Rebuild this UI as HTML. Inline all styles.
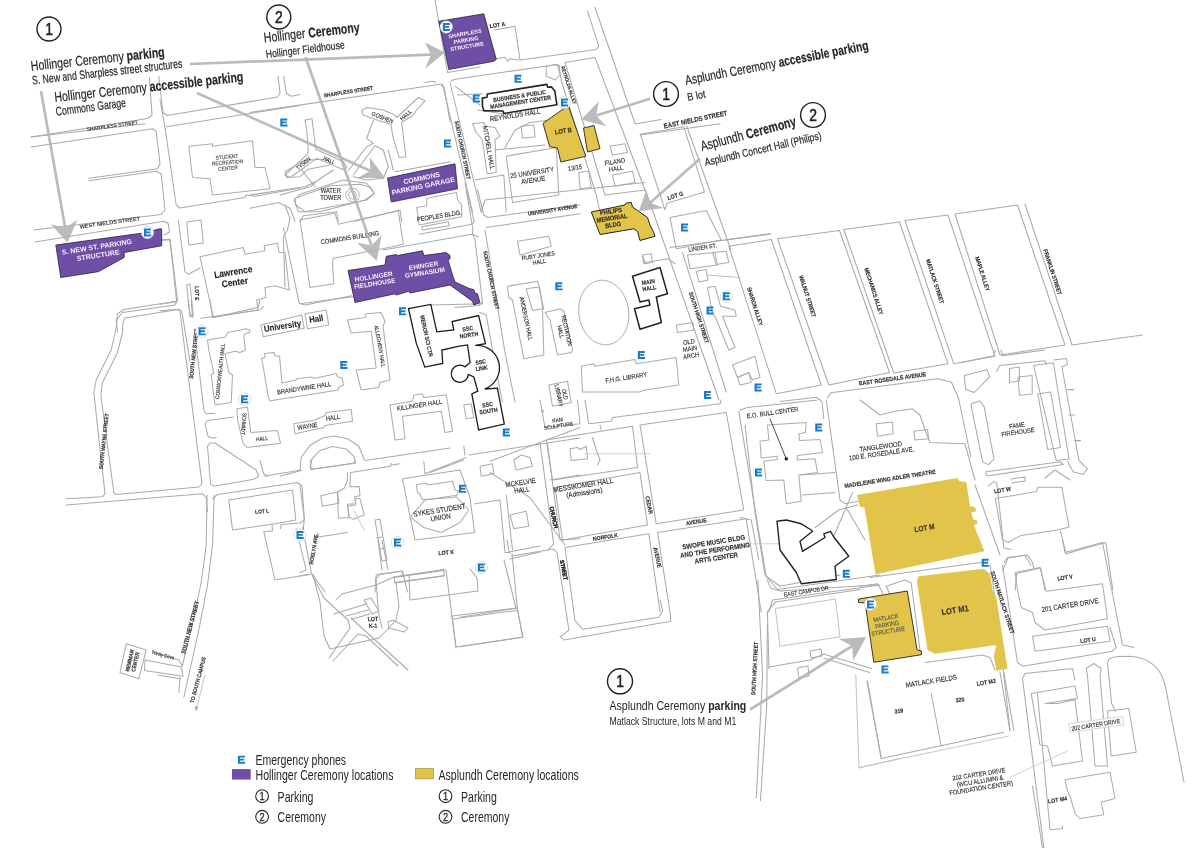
<!DOCTYPE html>
<html><head><meta charset="utf-8"><style>
html,body{margin:0;padding:0;background:#fff;}
svg{display:block;font-family:"Liberation Sans", sans-serif;will-change:transform;}
</style></head><body>
<svg width="1200" height="848" viewBox="0 0 1200 848">
<rect width="1200" height="848" fill="#fff"/>
<circle cx="262.1" cy="796.2" r="6.4" fill="white" stroke="#262626" stroke-width="1.1"/>
<circle cx="262.1" cy="816.8" r="6.4" fill="white" stroke="#262626" stroke-width="1.1"/>
<circle cx="445.5" cy="796.2" r="6.4" fill="white" stroke="#262626" stroke-width="1.1"/>
<circle cx="445.5" cy="816.8" r="6.4" fill="white" stroke="#262626" stroke-width="1.1"/>
<polyline points="31.2,137.0 147.5,118.5 152.0,115.0 149.5,77.5" fill="none" stroke="#aaaaaa" stroke-width="1.05" stroke-linejoin="round" stroke-linecap="round" />
<polyline points="158.8,76.2 163.0,112.5 167.5,115.5 277.5,97.0 280.0,93.0 278.0,76.2" fill="none" stroke="#aaaaaa" stroke-width="1.05" stroke-linejoin="round" stroke-linecap="round" />
<polyline points="283.8,76.2 286.2,93.0 291.2,96.2 300.0,94.5" fill="none" stroke="#aaaaaa" stroke-width="1.05" stroke-linejoin="round" stroke-linecap="round" />
<polyline points="31.2,137.0 145.0,123.8" fill="none" stroke="#aaaaaa" stroke-width="1.05" stroke-linejoin="round" stroke-linecap="round" />
<polyline points="31.2,147.0 152.5,128.8 156.2,131.2 160.0,163.8 157.5,168.8 88.8,178.2" fill="none" stroke="#aaaaaa" stroke-width="1.05" stroke-linejoin="round" stroke-linecap="round" />
<polyline points="88.8,180.8 156.2,171.2 161.2,173.8 165.0,210.0 161.2,214.5 33.8,230.0" fill="none" stroke="#aaaaaa" stroke-width="1.05" stroke-linejoin="round" stroke-linecap="round" />
<polyline points="35.0,242.0 163.8,221.2 168.0,223.2 169.5,232.0 163.8,235.0" fill="none" stroke="#aaaaaa" stroke-width="1.05" stroke-linejoin="round" stroke-linecap="round" />
<polyline points="162.5,240.0 170.0,240.0 177.5,300.0 175.0,305.0 122.5,312.5 116.2,320.0 117.5,332.0" fill="none" stroke="#aaaaaa" stroke-width="1.05" stroke-linejoin="round" stroke-linecap="round" />
<polyline points="160.0,100.0 165.0,127.5 176.2,205.0 180.0,208.0 245.0,197.5 246.2,195.0 255.0,196.2 300.0,188.0" fill="none" stroke="#aaaaaa" stroke-width="1.05" stroke-linejoin="round" stroke-linecap="round" />
<polyline points="166.5,126.8 300.0,105.5" fill="none" stroke="#aaaaaa" stroke-width="1.05" stroke-linejoin="round" stroke-linecap="round" />
<polygon points="188.8,146.2 212.5,143.8 212.5,146.2 252.5,140.8 255.0,167.5 265.0,167.5 270.0,188.8 212.5,195.0 210.0,178.8 192.5,177.5" fill="none" stroke="#acacac" stroke-width="1.05" stroke-linejoin="round" />
<polyline points="176.2,301.2 123.8,309.5 117.5,313.8 116.2,327.5 111.2,350.0 96.2,380.0 93.8,392.5 105.0,493.8 102.5,496.8 66.2,498.8" fill="none" stroke="#aaaaaa" stroke-width="1.05" stroke-linejoin="round" stroke-linecap="round" />
<polygon points="125.0,318.0 178.0,309.5 180.0,312.0 202.0,483.8 198.8,487.0 116.2,494.5 113.8,492.5 100.8,395.0 102.5,382.5 117.5,352.5 122.5,332.5 123.0,322.5" fill="none" stroke="#aaaaaa" stroke-width="1.05" stroke-linejoin="round" />
<polyline points="66.2,505.0 202.5,493.8 206.2,497.5 207.5,512.0" fill="none" stroke="#aaaaaa" stroke-width="1.05" stroke-linejoin="round" stroke-linecap="round" />
<polyline points="188.0,300.0 190.0,313.8 192.5,317.5 191.2,300.0" fill="none" stroke="#aaaaaa" stroke-width="1.05" stroke-linejoin="round" stroke-linecap="round" />
<polyline points="195.0,335.0 203.8,410.0 206.2,413.8 215.0,413.2" fill="none" stroke="#aaaaaa" stroke-width="1.05" stroke-linejoin="round" stroke-linecap="round" />
<polyline points="233.8,417.0 207.5,420.5 205.0,423.8 208.0,436.2 211.2,438.0 216.2,437.5" fill="none" stroke="#aaaaaa" stroke-width="1.05" stroke-linejoin="round" stroke-linecap="round" />
<polygon points="207.5,446.2 210.0,443.0 215.0,443.0 256.2,470.0 258.8,476.2 253.8,479.2 213.8,486.2 210.5,483.8" fill="none" stroke="#aaaaaa" stroke-width="1.05" stroke-linejoin="round" />
<polyline points="210.0,300.0 212.5,317.5 257.5,310.0 260.0,300.0" fill="none" stroke="#aaaaaa" stroke-width="1.05" stroke-linejoin="round" stroke-linecap="round" />
<polygon points="207.5,340.0 225.0,337.0 228.0,332.5 246.2,328.8 250.0,330.0 249.5,332.5 245.0,333.8 243.8,337.0 245.5,350.0 240.0,352.5 235.0,351.2 225.0,353.8 228.8,372.5 232.5,375.0 231.2,402.5 215.0,405.0 211.2,375.0 213.8,373.0 208.8,350.0" fill="none" stroke="#acacac" stroke-width="1.05" stroke-linejoin="round" />
<polygon points="237.0,408.8 247.5,407.0 250.8,432.5 277.5,430.5 280.5,443.2 247.0,447.5 243.0,443.0 237.5,419.5" fill="none" stroke="#acacac" stroke-width="1.05" stroke-linejoin="round" />
<polyline points="207.0,495.0 206.2,545.0 201.2,582.5 191.2,630.0 182.5,665.0" fill="none" stroke="#aaaaaa" stroke-width="1.05" stroke-linejoin="round" stroke-linecap="round" />
<polyline points="180.0,677.5 178.8,692.5" fill="none" stroke="#aaaaaa" stroke-width="1.05" stroke-linejoin="round" stroke-linecap="round" />
<polyline points="214.2,495.0 212.5,545.0 207.5,585.0 198.8,630.0 183.8,697.5" fill="none" stroke="#aaaaaa" stroke-width="1.05" stroke-linejoin="round" stroke-linecap="round" />
<polyline points="205.0,675.0 196.2,710.0" fill="none" stroke="#aaaaaa" stroke-width="0.7" stroke-linejoin="round" stroke-linecap="round" />
<polygon points="120.0,672.5 126.2,643.8 146.2,650.0 138.8,678.8" fill="none" stroke="#acacac" stroke-width="1.05" stroke-linejoin="round" />
<polyline points="152.5,652.0 178.8,660.0 182.5,666.2" fill="none" stroke="#aaaaaa" stroke-width="1.05" stroke-linejoin="round" stroke-linecap="round" />
<polygon points="145.0,660.0 181.2,667.0 183.0,676.2 144.5,670.5" fill="none" stroke="#aaaaaa" stroke-width="1.05" stroke-linejoin="round" />
<polyline points="158.0,675.0 180.0,678.8" fill="none" stroke="#aaaaaa" stroke-width="1.05" stroke-linejoin="round" stroke-linecap="round" />
<polygon points="300.0,220.0 335.0,213.3 338.3,224.2 398.3,210.8 403.3,244.2 385.0,248.3 333.3,258.3 332.5,263.0 333.8,283.8 310.0,287.5" fill="none" stroke="#acacac" stroke-width="1.05" stroke-linejoin="round" />
<circle cx="352.5" cy="195.0" r="6.7" fill="none" stroke="#aaa" stroke-width="0.9"/>
<circle cx="352.5" cy="195.0" r="4.0" fill="none" stroke="#aaa" stroke-width="0.9"/>
<polygon points="416.7,207.5 426.7,205.8 426.7,198.3 456.7,192.5 457.5,200.0 461.7,205.0 461.7,216.7 419.2,225.0" fill="none" stroke="#acacac" stroke-width="1.05" stroke-linejoin="round" />
<polygon points="421.7,226.7 448.3,221.7 449.2,225.8 422.5,230.0" fill="none" stroke="#acacac" stroke-width="1.05" stroke-linejoin="round" />
<polyline points="419.2,234.2 471.7,224.2 474.2,221.7 465.0,183.3" fill="none" stroke="#aaaaaa" stroke-width="1.05" stroke-linejoin="round" stroke-linecap="round" />
<polyline points="383.3,250.0 471.7,234.2 478.3,236.7" fill="none" stroke="#aaaaaa" stroke-width="1.05" stroke-linejoin="round" stroke-linecap="round" />
<polyline points="295.0,198.3 330.0,185.8 360.0,184.2 370.8,187.5 374.2,193.7 366.7,200.0 313.3,210.3 305.0,211.7 295.8,205.0 295.0,198.3" fill="none" stroke="#aaaaaa" stroke-width="1.05" stroke-linejoin="round" stroke-linecap="round" />
<polyline points="280.0,195.0 310.0,186.7 318.3,180.0 333.3,170.0" fill="none" stroke="#aaaaaa" stroke-width="1.05" stroke-linejoin="round" stroke-linecap="round" />
<polyline points="285.0,205.0 290.0,218.3 287.5,230.0 283.3,236.7 285.0,286.7" fill="none" stroke="#aaaaaa" stroke-width="1.05" stroke-linejoin="round" stroke-linecap="round" />
<polygon points="285.0,171.7 305.0,160.0 305.8,163.3 310.0,160.0 323.3,159.2 330.0,161.7 330.0,165.0 308.3,169.2 300.0,176.7 286.7,177.5" fill="none" stroke="#acacac" stroke-width="1.05" stroke-linejoin="round" />
<polygon points="305.0,313.8 326.2,310.0 328.8,325.0 307.5,328.8" fill="none" stroke="#acacac" stroke-width="1.05" stroke-linejoin="round" />
<polygon points="347.5,320.0 365.0,317.5 366.2,313.8 381.2,312.5 385.0,321.2 383.0,326.2 390.0,380.0 380.0,382.5 378.8,387.5 361.2,390.0 356.2,370.0 376.2,368.0 371.2,331.2 351.2,333.0" fill="none" stroke="#acacac" stroke-width="1.05" stroke-linejoin="round" />
<polygon points="507.5,286.2 537.5,281.2 540.0,288.8 542.5,307.5 543.8,355.0 523.8,358.8 512.5,300.0 508.8,297.5" fill="none" stroke="#acacac" stroke-width="1.05" stroke-linejoin="round" />
<polygon points="526.2,288.8 538.8,287.0 543.8,308.8 532.5,310.5" fill="none" stroke="#acacac" stroke-width="1.05" stroke-linejoin="round" />
<polygon points="545.0,312.5 560.0,308.8 563.8,311.2 572.5,350.0 571.2,352.5 557.5,355.0 550.0,320.0" fill="none" stroke="#acacac" stroke-width="1.05" stroke-linejoin="round" />
<polygon points="517.5,241.2 548.8,236.2 551.2,246.2 520.0,255.0" fill="none" stroke="#acacac" stroke-width="1.05" stroke-linejoin="round" />
<polyline points="466.2,190.0 473.0,230.0 472.5,233.8" fill="none" stroke="#aaaaaa" stroke-width="1.05" stroke-linejoin="round" stroke-linecap="round" />
<polyline points="477.5,190.0 483.8,215.0 487.5,217.5 580.0,205.0" fill="none" stroke="#aaaaaa" stroke-width="1.05" stroke-linejoin="round" stroke-linecap="round" />
<polyline points="485.0,230.0 505.0,352.5 515.0,402.0" fill="none" stroke="#aaaaaa" stroke-width="1.05" stroke-linejoin="round" stroke-linecap="round" />
<polyline points="486.2,227.5 580.0,213.8" fill="none" stroke="#aaaaaa" stroke-width="1.05" stroke-linejoin="round" stroke-linecap="round" />
<polyline points="472.5,233.8 475.0,240.0 482.5,302.5 478.8,305.5 455.0,307.5" fill="none" stroke="#aaaaaa" stroke-width="1.05" stroke-linejoin="round" stroke-linecap="round" />
<polyline points="300.0,303.8 385.0,292.5 450.0,283.8" fill="none" stroke="#aaaaaa" stroke-width="1.05" stroke-linejoin="round" stroke-linecap="round" />
<polyline points="480.0,312.5 486.2,315.0 500.0,390.0 502.5,402.0" fill="none" stroke="#aaaaaa" stroke-width="1.05" stroke-linejoin="round" stroke-linecap="round" />
<polyline points="430.0,305.0 482.5,303.8" fill="none" stroke="#aaaaaa" stroke-width="1.05" stroke-linejoin="round" stroke-linecap="round" />
<ellipse cx="603.8" cy="312.5" rx="25" ry="32.5" transform="rotate(-8 603.8 312.5)" fill="none" stroke="#aaa" stroke-width="0.9"/>
<polygon points="581.2,366.2 593.8,363.8 595.0,366.2 635.0,359.5 636.2,363.8 645.0,362.5 676.2,357.5 678.8,385.0 645.0,390.0 638.8,392.0 582.5,392.0" fill="none" stroke="#acacac" stroke-width="1.05" stroke-linejoin="round" />
<polyline points="645.0,190.0 650.0,203.0 719.0,400.0" fill="none" stroke="#aaaaaa" stroke-width="1.05" stroke-linejoin="round" stroke-linecap="round" />
<polyline points="682.5,252.5 726.2,392.0" fill="none" stroke="#aaaaaa" stroke-width="1.05" stroke-linejoin="round" stroke-linecap="round" />
<polygon points="640.4,134.3 683.8,126.8 704.5,191.9 666.8,203.2 664.9,209.8" fill="none" stroke="#acacac" stroke-width="1.05" stroke-linejoin="round" />
<polygon points="670.0,217.5 706.2,210.5 721.2,240.0 676.2,248.8" fill="none" stroke="#aaaaaa" stroke-width="1.05" stroke-linejoin="round" />
<polyline points="670.0,247.5 770.0,233.8" fill="none" stroke="#aaaaaa" stroke-width="1.05" stroke-linejoin="round" stroke-linecap="round" />
<polyline points="642.5,255.0 645.0,262.5 668.8,258.8 675.0,263.8" fill="none" stroke="#aaaaaa" stroke-width="1.05" stroke-linejoin="round" stroke-linecap="round" />
<polygon points="687.5,255.0 715.0,252.5 717.5,265.0 690.0,268.8" fill="none" stroke="#acacac" stroke-width="1.05" stroke-linejoin="round" />
<polygon points="712.5,252.5 726.2,251.2 728.8,262.5 716.2,264.5" fill="none" stroke="#acacac" stroke-width="1.05" stroke-linejoin="round" />
<polygon points="696.2,271.2 706.2,269.5 708.0,280.0 698.8,282.0" fill="none" stroke="#acacac" stroke-width="1.05" stroke-linejoin="round" />
<polyline points="706.2,275.0 740.0,277.5" fill="none" stroke="#c4c4c4" stroke-width="1.05" stroke-linejoin="round" stroke-linecap="round" />
<polygon points="676.2,325.0 693.0,322.5 693.8,330.0 677.5,332.5" fill="none" stroke="#acacac" stroke-width="1.05" stroke-linejoin="round" />
<polygon points="707.5,287.5 715.0,286.2 720.5,306.2 735.0,310.0 736.2,316.2 722.5,316.2 735.0,347.5 728.8,350.0 715.0,316.2 712.5,313.8" fill="none" stroke="#acacac" stroke-width="1.05" stroke-linejoin="round" />
<polygon points="732.5,365.0 755.0,356.2 760.0,377.5 752.5,380.0 748.8,372.5 737.5,377.5" fill="none" stroke="#acacac" stroke-width="1.05" stroke-linejoin="round" />
<polygon points="737.5,377.5 748.8,372.5 751.2,382.5 740.0,385.0" fill="none" stroke="#acacac" stroke-width="1.05" stroke-linejoin="round" />
<polygon points="642.5,255.0 651.2,253.8 652.5,262.5 643.8,263.8" fill="none" stroke="#acacac" stroke-width="1.05" stroke-linejoin="round" />
<polygon points="728.8,246.3 771.3,239.5 821.3,385.0 776.3,393.8" fill="none" stroke="#aaaaaa" stroke-width="1.05" stroke-linejoin="round" />
<polygon points="777.5,238.8 839.5,230.5 889.5,372.5 828.8,385.0" fill="none" stroke="#aaaaaa" stroke-width="1.05" stroke-linejoin="round" />
<polygon points="843.8,229.5 899.5,222.0 948.0,363.8 893.8,373.0" fill="none" stroke="#aaaaaa" stroke-width="1.05" stroke-linejoin="round" />
<polygon points="905.0,220.5 948.0,215.0 995.0,356.3 953.8,363.8" fill="none" stroke="#aaaaaa" stroke-width="1.05" stroke-linejoin="round" />
<polygon points="955.0,214.0 1017.5,205.0 1065.0,345.0 1000.0,355.0" fill="none" stroke="#aaaaaa" stroke-width="1.05" stroke-linejoin="round" />
<polyline points="1025.0,204.0 1072.0,345.0 1142.5,335.0" fill="none" stroke="#aaaaaa" stroke-width="1.05" stroke-linejoin="round" stroke-linecap="round" />
<polyline points="725.0,240.0 771.0,234.0" fill="none" stroke="#aaaaaa" stroke-width="1.05" stroke-linejoin="round" stroke-linecap="round" />
<polygon points="760.0,441.2 768.8,440.0 767.5,425.0 806.2,422.5 805.5,432.5 798.8,433.8 799.5,440.5 820.0,439.5 822.5,452.5 797.5,455.5 797.0,460.0 815.0,458.8 817.5,472.5 798.8,475.0 801.2,501.2 786.2,503.8 783.8,480.0 766.2,480.5 763.8,461.2 777.5,459.5 777.0,456.2 761.2,458.0" fill="none" stroke="#acacac" stroke-width="1.05" stroke-linejoin="round" />
<polygon points="876.2,423.8 892.5,422.0 893.0,433.8 877.5,436.2" fill="none" stroke="#acacac" stroke-width="1.05" stroke-linejoin="round" />
<polygon points="913.8,431.2 927.5,429.5 928.8,438.8 915.0,440.0" fill="none" stroke="#acacac" stroke-width="1.05" stroke-linejoin="round" />
<polyline points="860.0,400.0 880.0,415.0 895.0,411.2 912.5,408.8 920.0,415.0 925.0,430.0 930.0,442.5 965.0,443.8 975.0,480.0" fill="none" stroke="#aaaaaa" stroke-width="1.05" stroke-linejoin="round" stroke-linecap="round" />
<polyline points="826.2,400.0 840.0,500.0 845.0,503.8 865.0,500.0" fill="none" stroke="#aaaaaa" stroke-width="1.05" stroke-linejoin="round" stroke-linecap="round" />
<polyline points="745.0,425.0 755.0,512.5 765.0,575.0 777.5,589.5 880.0,575.0" fill="none" stroke="#aaaaaa" stroke-width="1.05" stroke-linejoin="round" stroke-linecap="round" />
<polyline points="740.0,517.5 751.2,520.0 758.8,560.0" fill="none" stroke="#aaaaaa" stroke-width="1.05" stroke-linejoin="round" stroke-linecap="round" />
<polyline points="768.8,612.0 772.5,600.0 880.0,585.0" fill="none" stroke="#aaaaaa" stroke-width="1.05" stroke-linejoin="round" stroke-linecap="round" />
<polyline points="846.2,507.5 865.0,540.0" fill="none" stroke="#aaaaaa" stroke-width="1.05" stroke-linejoin="round" stroke-linecap="round" />
<polyline points="815.0,527.5 838.8,510.0 857.5,505.0" fill="none" stroke="#aaaaaa" stroke-width="1.05" stroke-linejoin="round" stroke-linecap="round" />
<polyline points="830.0,545.0 852.5,492.5" fill="none" stroke="#aaaaaa" stroke-width="1.05" stroke-linejoin="round" stroke-linecap="round" />
<polyline points="975.0,485.0 1000.0,555.0" fill="none" stroke="#aaaaaa" stroke-width="1.05" stroke-linejoin="round" stroke-linecap="round" />
<polyline points="801.2,475.0 835.0,472.5" fill="none" stroke="#aaaaaa" stroke-width="1.05" stroke-linejoin="round" stroke-linecap="round" />
<polyline points="802.5,495.0 835.0,492.5" fill="none" stroke="#aaaaaa" stroke-width="1.05" stroke-linejoin="round" stroke-linecap="round" />
<polygon points="293.8,423.8 315.0,420.0 325.0,415.5 326.2,412.5 351.2,409.5 352.5,421.2 325.0,425.5 323.8,427.5 295.0,433.8" fill="none" stroke="#acacac" stroke-width="1.05" stroke-linejoin="round" />
<polygon points="390.0,405.0 412.5,401.2 413.8,395.0 422.5,393.8 423.8,397.5 446.2,395.0 452.5,431.2 445.0,432.5 441.2,411.2 402.5,416.2 405.0,438.8 395.0,440.0" fill="none" stroke="#acacac" stroke-width="1.05" stroke-linejoin="round" />
<polygon points="463.8,405.0 471.2,403.8 473.8,417.5 466.2,418.8" fill="none" stroke="#acacac" stroke-width="1.05" stroke-linejoin="round" />
<polygon points="548.8,385.0 567.5,381.2 571.2,402.5 552.5,406.2" fill="none" stroke="#acacac" stroke-width="1.05" stroke-linejoin="round" />
<polyline points="463.8,446.2 465.0,455.0" fill="none" stroke="#aaaaaa" stroke-width="1.05" stroke-linejoin="round" stroke-linecap="round" />
<polygon points="416.2,485.0 426.2,483.0 427.5,485.0 452.5,481.2 455.0,490.0 458.8,491.2 455.0,497.5 422.5,499.5 419.5,493.8 417.5,492.5" fill="none" stroke="#acacac" stroke-width="1.05" stroke-linejoin="round" />
<polygon points="411.2,516.2 425.0,500.0 455.0,495.5 468.8,510.0 460.0,522.5 441.2,532.5 423.8,527.5 412.5,518.8" fill="none" stroke="#acacac" stroke-width="1.05" stroke-linejoin="round" />
<polyline points="402.5,478.8 460.0,470.0 470.0,497.5 474.5,532.5 415.0,540.0 410.0,516.2 402.5,478.8" fill="none" stroke="#aaaaaa" stroke-width="1.05" stroke-linejoin="round" stroke-linecap="round" />
<polyline points="423.8,461.2 425.0,473.8 466.2,457.5" fill="none" stroke="#aaaaaa" stroke-width="1.05" stroke-linejoin="round" stroke-linecap="round" />
<polyline points="430.0,472.5 463.8,460.0" fill="none" stroke="#aaaaaa" stroke-width="1.05" stroke-linejoin="round" stroke-linecap="round" />
<polygon points="480.0,466.2 492.5,463.8 493.8,473.8 481.2,476.2" fill="none" stroke="#acacac" stroke-width="1.05" stroke-linejoin="round" />
<polygon points="513.8,460.0 521.2,455.0 530.0,457.5 532.5,466.2 516.2,470.0" fill="none" stroke="#acacac" stroke-width="1.05" stroke-linejoin="round" />
<polygon points="510.0,515.0 526.2,511.2 528.8,526.2 513.8,528.8" fill="none" stroke="#acacac" stroke-width="1.05" stroke-linejoin="round" />
<polyline points="540.0,442.5 553.7,544.1 548.6,549.1" fill="none" stroke="#aaaaaa" stroke-width="1.05" stroke-linejoin="round" stroke-linecap="round" />
<polyline points="547.5,443.8 560.0,540.0 580.0,538.8" fill="none" stroke="#aaaaaa" stroke-width="1.05" stroke-linejoin="round" stroke-linecap="round" />
<polyline points="550.0,480.0 580.0,475.0" fill="none" stroke="#aaaaaa" stroke-width="1.05" stroke-linejoin="round" stroke-linecap="round" />
<polyline points="511.5,555.9 553.7,549.1 557.1,552.5 568.9,630.1 560.4,636.8" fill="none" stroke="#aaaaaa" stroke-width="1.05" stroke-linejoin="round" stroke-linecap="round" />
<polyline points="475.0,503.8 500.0,500.0 505.0,552.5 510.0,552.5" fill="none" stroke="#aaaaaa" stroke-width="1.05" stroke-linejoin="round" stroke-linecap="round" />
<polyline points="506.2,495.0 512.5,550.0" fill="none" stroke="#aaaaaa" stroke-width="1.05" stroke-linejoin="round" stroke-linecap="round" />
<polyline points="490.0,472.5 530.0,497.5 565.0,545.0" fill="none" stroke="#aaaaaa" stroke-width="1.05" stroke-linejoin="round" stroke-linecap="round" />
<polyline points="495.0,30.0 515.0,26.2 520.0,60.0 596.2,49.5 598.8,46.2 587.5,11.2" fill="none" stroke="#aaaaaa" stroke-width="1.05" stroke-linejoin="round" stroke-linecap="round" />
<polyline points="435.0,0.0 447.5,72.5 480.0,67.0" fill="none" stroke="#aaaaaa" stroke-width="1.05" stroke-linejoin="round" stroke-linecap="round" />
<polyline points="483.8,60.0 505.0,57.5 507.5,61.2 510.0,58.8 518.8,60.0" fill="none" stroke="#aaaaaa" stroke-width="1.05" stroke-linejoin="round" stroke-linecap="round" />
<polyline points="425.0,82.5 432.5,81.2 436.2,82.5" fill="none" stroke="#aaaaaa" stroke-width="1.05" stroke-linejoin="round" stroke-linecap="round" />
<polyline points="451.2,81.2 453.8,79.5 545.0,66.2 556.2,64.5 560.0,66.2" fill="none" stroke="#aaaaaa" stroke-width="1.05" stroke-linejoin="round" stroke-linecap="round" />
<polyline points="450.0,82.5 481.2,212.0" fill="none" stroke="#aaaaaa" stroke-width="1.05" stroke-linejoin="round" stroke-linecap="round" />
<polyline points="442.5,83.8 472.5,212.0" fill="none" stroke="#aaaaaa" stroke-width="1.05" stroke-linejoin="round" stroke-linecap="round" />
<polyline points="565.0,62.5 595.0,57.5 645.0,190.0 605.0,195.0 565.0,62.5" fill="none" stroke="#aaaaaa" stroke-width="1.05" stroke-linejoin="round" stroke-linecap="round" />
<polyline points="558.8,65.0 561.2,80.0 596.2,195.0 600.0,212.0" fill="none" stroke="#aaaaaa" stroke-width="1.05" stroke-linejoin="round" stroke-linecap="round" />
<polyline points="595.0,7.5 635.2,124.0 661.0,119.5" fill="none" stroke="#aaaaaa" stroke-width="1.05" stroke-linejoin="round" stroke-linecap="round" />
<polyline points="640.0,135.0 720.0,123.8" fill="none" stroke="#aaaaaa" stroke-width="1.05" stroke-linejoin="round" stroke-linecap="round" />
<polyline points="686.6,125.8 731.0,250.0" fill="none" stroke="#aaaaaa" stroke-width="1.05" stroke-linejoin="round" stroke-linecap="round" />
<polyline points="475.0,180.0 503.8,175.0 506.2,212.0" fill="none" stroke="#aaaaaa" stroke-width="1.05" stroke-linejoin="round" stroke-linecap="round" />
<polyline points="481.2,212.0 485.0,200.0 645.0,182.5" fill="none" stroke="#aaaaaa" stroke-width="1.05" stroke-linejoin="round" stroke-linecap="round" />
<polygon points="472.5,123.8 483.8,122.5 485.5,126.2 495.0,127.5 500.0,136.2 495.0,140.0 496.2,172.5 487.0,173.8 482.5,140.0 476.2,132.5" fill="none" stroke="#acacac" stroke-width="1.05" stroke-linejoin="round" />
<polygon points="506.2,156.2 556.2,147.5 558.8,195.0 512.5,202.5" fill="none" stroke="#acacac" stroke-width="1.05" stroke-linejoin="round" />
<polygon points="610.0,146.2 625.0,143.8 627.5,152.5 612.5,155.0" fill="none" stroke="#acacac" stroke-width="1.05" stroke-linejoin="round" />
<polygon points="612.5,175.0 632.5,171.2 635.0,182.5 615.0,186.2" fill="none" stroke="#acacac" stroke-width="1.05" stroke-linejoin="round" />
<polygon points="578.8,172.5 588.8,171.2 591.2,187.5 580.0,188.8" fill="none" stroke="#acacac" stroke-width="1.05" stroke-linejoin="round" />
<polygon points="521.2,126.2 533.8,125.0 535.0,137.0 522.5,138.0" fill="none" stroke="#acacac" stroke-width="1.05" stroke-linejoin="round" />
<polyline points="505.0,147.5 515.0,130.0 530.0,122.5 550.0,120.0 552.5,125.0" fill="none" stroke="#aaaaaa" stroke-width="1.05" stroke-linejoin="round" stroke-linecap="round" />
<polyline points="495.0,150.0 545.0,145.0" fill="none" stroke="#aaaaaa" stroke-width="1.05" stroke-linejoin="round" stroke-linecap="round" />
<polyline points="455.0,86.2 480.0,105.0" fill="none" stroke="#aaaaaa" stroke-width="1.05" stroke-linejoin="round" stroke-linecap="round" />
<polyline points="457.5,95.0 482.5,93.8" fill="none" stroke="#aaaaaa" stroke-width="1.05" stroke-linejoin="round" stroke-linecap="round" />
<polyline points="477.5,110.0 502.5,113.8" fill="none" stroke="#aaaaaa" stroke-width="1.05" stroke-linejoin="round" stroke-linecap="round" />
<polygon points="546.2,66.2 557.5,64.5 560.0,75.0 555.0,80.0 546.2,76.2" fill="none" stroke="#acacac" stroke-width="1.05" stroke-linejoin="round" />
<polyline points="870.0,577.5 983.8,562.0" fill="none" stroke="#aaaaaa" stroke-width="1.05" stroke-linejoin="round" stroke-linecap="round" />
<polyline points="860.0,586.2 877.5,583.8 881.2,590.0 882.5,593.8" fill="none" stroke="#aaaaaa" stroke-width="1.05" stroke-linejoin="round" stroke-linecap="round" />
<polygon points="886.2,586.2 905.0,580.0 911.2,583.0 920.0,650.0 917.5,651.2 913.8,645.0" fill="none" stroke="#aaaaaa" stroke-width="1.05" stroke-linejoin="round" />
<polyline points="990.0,565.0 995.0,597.5 1010.0,730.0" fill="none" stroke="#aaaaaa" stroke-width="1.05" stroke-linejoin="round" stroke-linecap="round" />
<polyline points="1003.8,562.5 1007.5,557.5 1027.5,555.0 1032.5,562.5 1033.8,567.5" fill="none" stroke="#aaaaaa" stroke-width="1.05" stroke-linejoin="round" stroke-linecap="round" />
<polyline points="1002.5,565.0 1017.5,662.5 1022.5,666.2 1112.5,651.2 1116.2,647.5 1110.0,627.5" fill="none" stroke="#aaaaaa" stroke-width="1.05" stroke-linejoin="round" stroke-linecap="round" />
<polygon points="1015.0,572.5 1040.0,567.5 1046.2,591.2 1102.5,583.8 1107.5,618.8 1045.0,630.0 1035.0,622.5 1032.5,612.5 1021.2,607.5 1017.5,590.0" fill="none" stroke="#acacac" stroke-width="1.05" stroke-linejoin="round" />
<polygon points="1032.5,636.2 1107.5,626.2 1110.0,641.2 1035.0,651.2" fill="none" stroke="#acacac" stroke-width="1.05" stroke-linejoin="round" />
<polyline points="1062.5,540.0 1065.0,552.5 1102.5,542.5 1122.5,645.0 1133.8,647.5" fill="none" stroke="#aaaaaa" stroke-width="1.05" stroke-linejoin="round" stroke-linecap="round" />
<polyline points="925.0,662.5 982.5,655.0 990.0,657.5 995.0,670.0" fill="none" stroke="#aaaaaa" stroke-width="1.05" stroke-linejoin="round" stroke-linecap="round" />
<polyline points="867.5,681.0 881.2,758.5 1003.8,732.2" fill="none" stroke="#aaaaaa" stroke-width="1.05" stroke-linejoin="round" stroke-linecap="round" />
<polyline points="931.2,693.5 941.2,746.0" fill="none" stroke="#aaaaaa" stroke-width="1.05" stroke-linejoin="round" stroke-linecap="round" />
<polyline points="1000.0,672.2 1010.0,731.0" fill="none" stroke="#aaaaaa" stroke-width="1.05" stroke-linejoin="round" stroke-linecap="round" />
<polyline points="1003.8,672.2 1013.8,730.5" fill="none" stroke="#aaaaaa" stroke-width="1.05" stroke-linejoin="round" stroke-linecap="round" />
<polyline points="860.0,767.2 1008.8,736.0" fill="none" stroke="#c8c8c8" stroke-width="1.05" stroke-linejoin="round" stroke-linecap="round" />
<polyline points="1022.5,678.5 1025.0,673.5 1072.5,668.5 1075.0,679.8" fill="none" stroke="#aaaaaa" stroke-width="1.05" stroke-linejoin="round" stroke-linecap="round" />
<polyline points="1022.5,678.5 1043.8,848.0" fill="none" stroke="#aaaaaa" stroke-width="1.05" stroke-linejoin="round" stroke-linecap="round" />
<polyline points="1032.5,786.0 1042.5,848.0" fill="none" stroke="#aaaaaa" stroke-width="1.05" stroke-linejoin="round" stroke-linecap="round" />
<polygon points="1031.2,693.5 1075.0,686.0 1077.5,698.5 1045.0,703.5 1057.5,703.5 1075.0,699.8 1082.5,761.0 1052.5,766.0 1047.5,746.0 1040.0,744.8" fill="none" stroke="#acacac" stroke-width="1.05" stroke-linejoin="round" />
<polygon points="1086.2,668.5 1093.8,663.5 1101.2,668.5 1100.0,676.0 1107.5,766.0 1095.0,766.0 1087.5,676.0" fill="none" stroke="#acacac" stroke-width="1.05" stroke-linejoin="round" />
<polygon points="1107.5,711.0 1128.8,708.5 1136.2,752.2 1111.2,756.0" fill="none" stroke="#acacac" stroke-width="1.05" stroke-linejoin="round" />
<polygon points="1065.0,779.8 1110.0,772.2 1115.0,798.5 1101.2,802.2 1103.8,814.8 1080.0,818.5 1075.0,813.5 1070.0,796.0 1067.5,791.0" fill="none" stroke="#acacac" stroke-width="1.05" stroke-linejoin="round" />
<polyline points="1037.5,693.5 1050.0,829.8 1062.5,828.5 1062.5,826.0" fill="none" stroke="#aaaaaa" stroke-width="1.05" stroke-linejoin="round" stroke-linecap="round" />
<polyline points="1010.0,777.2 1067.5,751.0" fill="none" stroke="#bbb" stroke-width="0.7" stroke-linejoin="round" stroke-linecap="round" />
<polygon points="1068.8,723.5 1122.5,716.5 1123.8,724.8 1070.0,732.2" fill="white" stroke="#bbb" stroke-width="0.6" stroke-linejoin="round" />
<polygon points="546.2,440.0 632.5,426.2 637.5,467.5 552.5,480.0" fill="none" stroke="#aaaaaa" stroke-width="1.05" stroke-linejoin="round" />
<polygon points="570.0,448.8 577.5,447.5 580.0,449.5 586.2,446.2 587.5,458.8 571.2,460.5" fill="none" stroke="#acacac" stroke-width="1.05" stroke-linejoin="round" />
<polyline points="585.0,453.8 650.0,453.8" fill="none" stroke="#c0c0c0" stroke-width="0.7" stroke-linejoin="round" stroke-linecap="round" />
<polyline points="592.5,437.5 596.2,450.0 600.0,460.0 597.5,465.0" fill="none" stroke="#aaaaaa" stroke-width="1.05" stroke-linejoin="round" stroke-linecap="round" />
<polygon points="555.0,487.5 640.0,472.5 647.5,525.0 562.5,540.0" fill="none" stroke="#aaaaaa" stroke-width="1.05" stroke-linejoin="round" />
<polygon points="640.0,425.0 726.2,412.5 743.8,510.0 656.2,523.8" fill="none" stroke="#aaaaaa" stroke-width="1.05" stroke-linejoin="round" />
<polyline points="670.0,612.0 657.5,532.5 746.2,518.8 761.2,612.0" fill="none" stroke="#aaaaaa" stroke-width="1.05" stroke-linejoin="round" stroke-linecap="round" />
<polyline points="573.8,612.0 565.0,547.5 648.8,533.8 660.0,612.0" fill="none" stroke="#aaaaaa" stroke-width="1.05" stroke-linejoin="round" stroke-linecap="round" />
<polyline points="540.0,400.0 545.0,427.5 580.0,423.8 577.5,400.0" fill="none" stroke="#aaaaaa" stroke-width="1.05" stroke-linejoin="round" stroke-linecap="round" />
<polyline points="585.0,400.0 588.8,423.8 611.2,421.2 612.5,417.5 720.0,403.8 721.2,400.0" fill="none" stroke="#aaaaaa" stroke-width="1.05" stroke-linejoin="round" stroke-linecap="round" />
<polyline points="600.0,425.0 601.2,430.0" fill="none" stroke="#aaaaaa" stroke-width="1.05" stroke-linejoin="round" stroke-linecap="round" />
<polyline points="738.8,411.2 766.2,576.2 780.0,586.2 840.0,575.0" fill="none" stroke="#aaaaaa" stroke-width="1.05" stroke-linejoin="round" stroke-linecap="round" />
<polyline points="740.0,410.0 747.5,407.5 817.5,400.0" fill="none" stroke="#aaaaaa" stroke-width="1.05" stroke-linejoin="round" stroke-linecap="round" />
<polyline points="745.0,543.8 786.2,543.8" fill="none" stroke="#bbb" stroke-width="0.7" stroke-linejoin="round" stroke-linecap="round" />
<polygon points="200.0,256.7 243.3,247.5 245.0,254.2 265.0,250.8 264.2,245.8 277.5,243.3 279.2,252.5 285.0,252.5 289.2,290.0 275.0,285.8 265.0,287.5 265.8,297.5 256.7,300.0 257.5,307.5 213.3,317.5" fill="none" stroke="#acacac" stroke-width="1.05" stroke-linejoin="round" />
<polygon points="260.8,325.0 301.7,315.0 304.2,328.3 263.3,336.7" fill="none" stroke="#acacac" stroke-width="1.05" stroke-linejoin="round" />
<polygon points="186.7,285.0 190.0,284.2 193.3,315.8 190.0,316.7" fill="none" stroke="#acacac" stroke-width="1.05" stroke-linejoin="round" />
<polygon points="186.7,222.0 201.0,220.0 203.3,243.0 189.0,245.0" fill="none" stroke="#acacac" stroke-width="1.05" stroke-linejoin="round" />
<polyline points="178.3,220.0 185.0,271.7 188.3,274.2 200.0,268.0" fill="none" stroke="#aaaaaa" stroke-width="1.05" stroke-linejoin="round" stroke-linecap="round" />
<polyline points="160.0,310.8 178.3,309.2 181.7,310.8 190.0,361.3" fill="none" stroke="#aaaaaa" stroke-width="1.05" stroke-linejoin="round" stroke-linecap="round" />
<polyline points="160.0,240.0 170.0,239.2 176.7,301.7 160.0,304.2" fill="none" stroke="#aaaaaa" stroke-width="1.05" stroke-linejoin="round" stroke-linecap="round" />
<polyline points="283.3,227.5 299.2,303.3 305.0,305.0 351.7,295.8" fill="none" stroke="#aaaaaa" stroke-width="1.05" stroke-linejoin="round" stroke-linecap="round" />
<polyline points="200.8,318.3 260.0,310.0 263.3,306.7" fill="none" stroke="#aaaaaa" stroke-width="1.05" stroke-linejoin="round" stroke-linecap="round" />
<polyline points="250.0,112.5 440.0,84.2 444.2,87.5 450.0,121.7" fill="none" stroke="#aaaaaa" stroke-width="1.05" stroke-linejoin="round" stroke-linecap="round" />
<polyline points="395.0,171.7 450.0,161.7" fill="none" stroke="#aaaaaa" stroke-width="1.05" stroke-linejoin="round" stroke-linecap="round" />
<polyline points="393.3,170.0 388.3,150.0" fill="none" stroke="#aaaaaa" stroke-width="1.05" stroke-linejoin="round" stroke-linecap="round" />
<polyline points="294.2,200.0 300.0,194.2 343.3,180.0 366.7,183.3 374.2,193.3 365.0,200.0 320.0,211.7 298.3,211.7 294.2,200.0" fill="none" stroke="#aaaaaa" stroke-width="1.05" stroke-linejoin="round" stroke-linecap="round" />
<polyline points="250.0,208.3 278.3,202.5 290.0,208.3 295.0,221.3" fill="none" stroke="#aaaaaa" stroke-width="1.05" stroke-linejoin="round" stroke-linecap="round" />
<polyline points="300.0,221.3 303.3,215.8 336.7,211.7 338.3,221.3" fill="none" stroke="#aaaaaa" stroke-width="1.05" stroke-linejoin="round" stroke-linecap="round" />
<polyline points="355.0,221.3 400.0,210.0 401.7,221.3" fill="none" stroke="#aaaaaa" stroke-width="1.05" stroke-linejoin="round" stroke-linecap="round" />
<polyline points="353.3,175.0 375.0,145.8 383.3,150.0 388.3,166.7 383.3,178.3 366.7,180.0 353.3,176.7" fill="none" stroke="#aaaaaa" stroke-width="1.05" stroke-linejoin="round" stroke-linecap="round" />
<polyline points="348.3,170.8 366.7,146.7 373.3,143.3 366.7,138.3 373.3,120.8" fill="none" stroke="#aaaaaa" stroke-width="1.05" stroke-linejoin="round" stroke-linecap="round" />
<polyline points="250.0,195.0 305.0,186.7 315.0,181.7" fill="none" stroke="#aaaaaa" stroke-width="1.05" stroke-linejoin="round" stroke-linecap="round" />
<polyline points="301.7,170.0 315.0,186.7" fill="none" stroke="#aaaaaa" stroke-width="1.05" stroke-linejoin="round" stroke-linecap="round" />
<polygon points="305.0,120.0 312.0,118.7 315.8,149.2 343.3,161.7 347.0,167.0 344.2,170.0 316.7,158.3 300.8,170.0 290.0,177.5 285.0,175.0 307.5,154.2 308.3,150.0 306.7,130.0" fill="none" stroke="#acacac" stroke-width="1.05" stroke-linejoin="round" />
<polygon points="361.7,110.8 366.7,107.5 383.3,110.0 393.3,114.2 396.7,117.5 418.3,97.5 425.0,100.8 416.7,110.0 412.5,115.8 401.7,122.5 405.8,156.7 399.2,157.5 393.3,138.3 390.8,124.2 379.2,120.8 363.3,115.0" fill="none" stroke="#acacac" stroke-width="1.05" stroke-linejoin="round" />
<polyline points="757.9,580.0 762.6,674.7 756.3,797.9" fill="none" stroke="#aaaaaa" stroke-width="1.05" stroke-linejoin="round" stroke-linecap="round" />
<polyline points="767.4,624.2 766.7,706.3 760.4,801.0" fill="none" stroke="#aaaaaa" stroke-width="1.05" stroke-linejoin="round" stroke-linecap="round" />
<polyline points="767.4,580.0 770.5,587.9 780.0,591.1 877.9,584.7" fill="none" stroke="#aaaaaa" stroke-width="1.05" stroke-linejoin="round" stroke-linecap="round" />
<polyline points="769.0,668.4 767.4,611.6 775.3,602.1 860.5,589.5" fill="none" stroke="#aaaaaa" stroke-width="1.05" stroke-linejoin="round" stroke-linecap="round" />
<polygon points="775.3,608.4 835.3,598.9 840.0,636.8 780.0,646.3" fill="none" stroke="#c4c4c4" stroke-width="1.05" stroke-linejoin="round" />
<polyline points="769.0,667.0 810.0,660.0 824.0,654.0" fill="none" stroke="#aaaaaa" stroke-width="1.05" stroke-linejoin="round" stroke-linecap="round" />
<polyline points="855.8,674.7 858.9,767.9 900.0,758.4" fill="none" stroke="#c4c4c4" stroke-width="1.05" stroke-linejoin="round" stroke-linecap="round" />
<polyline points="866.8,681.0 881.0,756.8" fill="none" stroke="#aaaaaa" stroke-width="1.05" stroke-linejoin="round" stroke-linecap="round" />
<polyline points="824.2,654.2 871.6,668.4" fill="none" stroke="#aaaaaa" stroke-width="1.05" stroke-linejoin="round" stroke-linecap="round" />
<polyline points="824.2,658.2 869.6,672.4" fill="none" stroke="#aaaaaa" stroke-width="1.05" stroke-linejoin="round" stroke-linecap="round" />
<polygon points="810.0,651.0 821.0,649.0 822.0,656.0 811.0,658.0" fill="none" stroke="#acacac" stroke-width="1.05" stroke-linejoin="round" />
<polygon points="797.5,668.0 808.0,666.0 809.0,676.0 799.0,678.0" fill="none" stroke="#acacac" stroke-width="1.05" stroke-linejoin="round" />
<polyline points="960.0,362.7 994.0,355.7 995.4,350.0" fill="none" stroke="#aaaaaa" stroke-width="1.05" stroke-linejoin="round" stroke-linecap="round" />
<polyline points="1001.0,350.0 1002.5,355.7 1045.0,350.0" fill="none" stroke="#aaaaaa" stroke-width="1.05" stroke-linejoin="round" stroke-linecap="round" />
<polygon points="964.2,375.5 986.9,369.8 989.7,376.9 974.2,392.5 965.7,389.6" fill="none" stroke="#aaaaaa" stroke-width="1.05" stroke-linejoin="round" />
<polyline points="996.8,371.2 999.6,365.6 1045.0,360.7 1046.3,364.2" fill="none" stroke="#aaaaaa" stroke-width="1.05" stroke-linejoin="round" stroke-linecap="round" />
<polygon points="1009.5,368.4 1019.4,367.0 1019.4,381.1 1009.5,382.5" fill="none" stroke="#acacac" stroke-width="1.05" stroke-linejoin="round" />
<polygon points="1018.0,376.9 1032.2,375.5 1032.2,393.9 1019.4,395.3" fill="none" stroke="#acacac" stroke-width="1.05" stroke-linejoin="round" />
<polygon points="971.3,403.8 979.8,401.0 984.1,406.6 994.0,459.0 988.3,464.6 982.6,461.8 971.3,406.6" fill="none" stroke="#aaaaaa" stroke-width="1.05" stroke-linejoin="round" />
<polygon points="1033.6,365.6 1053.4,362.7 1069.0,459.0 1056.2,460.4" fill="none" stroke="#acacac" stroke-width="1.05" stroke-linejoin="round" />
<polygon points="1037.8,393.9 1050.6,391.9 1060.5,447.6 1047.7,449.6" fill="none" stroke="#acacac" stroke-width="1.05" stroke-linejoin="round" />
<polyline points="1053.4,359.9 1066.1,358.5 1067.6,364.2 1061.9,367.0 1078.9,460.4 1087.4,468.9 1083.1,474.5 1073.2,471.7 1067.6,461.8" fill="none" stroke="#aaaaaa" stroke-width="1.05" stroke-linejoin="round" stroke-linecap="round" />
<polyline points="1067.6,389.6 1073.6,389.6" fill="none" stroke="#aaaaaa" stroke-width="1.05" stroke-linejoin="round" stroke-linecap="round" />
<polyline points="1069.0,415.0 1075.0,415.0" fill="none" stroke="#aaaaaa" stroke-width="1.05" stroke-linejoin="round" stroke-linecap="round" />
<polyline points="1074.6,440.6 1080.6,440.6" fill="none" stroke="#aaaaaa" stroke-width="1.05" stroke-linejoin="round" stroke-linecap="round" />
<polygon points="985.5,471.7 1060.5,461.8 1063.3,464.6 986.9,476.0" fill="none" stroke="#aaaaaa" stroke-width="1.05" stroke-linejoin="round" />
<polyline points="988.3,485.9 994.0,481.6 996.8,483.0 1003.9,548.1 1011.0,549.5" fill="none" stroke="#aaaaaa" stroke-width="1.05" stroke-linejoin="round" stroke-linecap="round" />
<polygon points="995.4,498.6 1036.4,491.5 1037.8,487.3 1042.1,487.3 1061.9,487.3 1069.0,526.9 1059.1,529.7 1020.9,535.4 1008.2,542.5 1002.5,539.6" fill="none" stroke="#acacac" stroke-width="1.05" stroke-linejoin="round" />
<polyline points="1066.1,553.8 1105.8,542.5 1112.8,590.0" fill="none" stroke="#aaaaaa" stroke-width="1.05" stroke-linejoin="round" stroke-linecap="round" />
<polyline points="1060.5,531.1 1066.1,553.8" fill="none" stroke="#aaaaaa" stroke-width="1.05" stroke-linejoin="round" stroke-linecap="round" />
<polyline points="1002.5,570.8 1008.1,558.0 1025.1,555.2 1030.8,565.1" fill="none" stroke="#aaaaaa" stroke-width="1.05" stroke-linejoin="round" stroke-linecap="round" />
<polyline points="1015.2,590.0 1016.6,573.6 1040.7,568.0 1044.9,590.0" fill="none" stroke="#aaaaaa" stroke-width="1.05" stroke-linejoin="round" stroke-linecap="round" />
<polyline points="1011.0,479.0 1025.0,477.0 1025.0,481.0 1012.0,483.0" fill="none" stroke="#aaaaaa" stroke-width="1.05" stroke-linejoin="round" stroke-linecap="round" />
<polyline points="1045.0,478.0 1055.0,470.0 1070.0,480.0" fill="none" stroke="#aaaaaa" stroke-width="1.05" stroke-linejoin="round" stroke-linecap="round" />
<polyline points="300.0,576.0 311.0,574.0" fill="none" stroke="#aaaaaa" stroke-width="1.05" stroke-linejoin="round" stroke-linecap="round" />
<polyline points="312.0,575.0 324.0,598.0 348.0,620.0 350.0,628.0 329.0,658.0" fill="none" stroke="#aaaaaa" stroke-width="1.05" stroke-linejoin="round" stroke-linecap="round" />
<polyline points="313.0,575.0 320.0,602.0 324.0,636.0 330.0,649.0 379.0,638.0 388.0,629.0" fill="none" stroke="#aaaaaa" stroke-width="1.05" stroke-linejoin="round" stroke-linecap="round" />
<polyline points="336.0,600.0 342.0,594.0 376.0,585.0 394.0,577.0 444.0,569.6" fill="none" stroke="#aaaaaa" stroke-width="1.05" stroke-linejoin="round" stroke-linecap="round" />
<polyline points="351.0,618.0 408.0,670.0" fill="none" stroke="#aaaaaa" stroke-width="1.05" stroke-linejoin="round" stroke-linecap="round" />
<polyline points="333.0,661.0 358.0,634.0 366.0,636.0 398.0,666.0" fill="none" stroke="#aaaaaa" stroke-width="1.05" stroke-linejoin="round" stroke-linecap="round" />
<polyline points="378.0,540.0 382.0,570.0" fill="none" stroke="#aaaaaa" stroke-width="1.05" stroke-linejoin="round" stroke-linecap="round" />
<polyline points="382.0,540.0 388.0,570.0" fill="none" stroke="#aaaaaa" stroke-width="1.05" stroke-linejoin="round" stroke-linecap="round" />
<polygon points="394.0,577.0 444.0,570.0 444.0,576.0 395.0,583.0" fill="none" stroke="#acacac" stroke-width="1.05" stroke-linejoin="round" />
<polyline points="375.0,580.0 380.0,574.0 402.0,571.0 403.0,575.0" fill="none" stroke="#aaaaaa" stroke-width="1.05" stroke-linejoin="round" stroke-linecap="round" />
<polyline points="376.0,579.0 378.4,612.0 382.0,628.0" fill="none" stroke="#aaaaaa" stroke-width="1.05" stroke-linejoin="round" stroke-linecap="round" />
<polyline points="396.0,583.0 399.0,606.0 396.0,620.0 388.0,629.0" fill="none" stroke="#aaaaaa" stroke-width="1.05" stroke-linejoin="round" stroke-linecap="round" />
<polyline points="409.0,576.0 410.0,600.0 478.0,591.0 477.0,578.0 470.0,569.0" fill="none" stroke="#aaaaaa" stroke-width="1.05" stroke-linejoin="round" stroke-linecap="round" />
<polygon points="452.0,616.0 517.0,608.0 523.0,637.0 456.0,647.0" fill="none" stroke="#acacac" stroke-width="1.05" stroke-linejoin="round" />
<polyline points="453.0,619.0 517.0,610.4" fill="none" stroke="#aaaaaa" stroke-width="1.05" stroke-linejoin="round" stroke-linecap="round" />
<polyline points="504.0,560.0 516.0,608.0" fill="none" stroke="#aaaaaa" stroke-width="1.05" stroke-linejoin="round" stroke-linecap="round" />
<polyline points="507.0,540.0 509.0,552.0 540.0,546.0" fill="none" stroke="#aaaaaa" stroke-width="1.05" stroke-linejoin="round" stroke-linecap="round" />
<polyline points="510.0,559.0 540.0,552.0" fill="none" stroke="#aaaaaa" stroke-width="1.05" stroke-linejoin="round" stroke-linecap="round" />
<polyline points="446.0,570.0 456.0,648.0" fill="none" stroke="#aaaaaa" stroke-width="1.05" stroke-linejoin="round" stroke-linecap="round" />
<polyline points="334.0,614.0 366.0,604.0" fill="none" stroke="#aaaaaa" stroke-width="1.05" stroke-linejoin="round" stroke-linecap="round" />
<polyline points="346.0,616.0 368.0,610.0" fill="none" stroke="#aaaaaa" stroke-width="1.05" stroke-linejoin="round" stroke-linecap="round" />
<polyline points="352.0,619.0 370.0,614.0" fill="none" stroke="#aaaaaa" stroke-width="1.05" stroke-linejoin="round" stroke-linecap="round" />
<polygon points="364.0,600.0 371.0,598.0 379.0,611.0 372.0,614.0" fill="none" stroke="#acacac" stroke-width="1.05" stroke-linejoin="round" />
<polygon points="388.0,622.0 393.0,620.0 408.0,628.0 404.0,632.0 389.0,628.0" fill="none" stroke="#acacac" stroke-width="1.05" stroke-linejoin="round" />
<polygon points="261.5,358.5 265.0,357.5 264.5,353.5 274.0,352.5 275.0,356.0 279.5,356.0 282.0,383.0 296.0,380.0 297.0,378.5 312.0,377.0 314.0,378.5 330.0,375.0 336.0,373.5 338.0,377.0 342.0,378.0 343.5,385.0 339.0,387.0 338.0,390.0 304.0,395.5 278.0,399.5 270.0,401.0 268.0,396.0 263.0,365.5" fill="none" stroke="#acacac" stroke-width="1.05" stroke-linejoin="round" />
<path d="M300.0,470.5 L301.2,457.5 L310.0,445.5 L322.5,438.0 L333.8,436.0 L347.5,438.8 L358.8,446.2 L364.5,460.0" fill="none" stroke="#aaaaaa" stroke-width="1.05" />
<path d="M310.0,468.8 L312.0,458.8 L320.0,450.5 L332.5,446.5 L346.2,449.0 L353.8,456.2 L355.5,463.0 L310.0,469.5" fill="none" stroke="#aaaaaa" stroke-width="1.05" />
<polyline points="263.8,476.2 301.2,470.0" fill="none" stroke="#aaaaaa" stroke-width="1.05" stroke-linejoin="round" stroke-linecap="round" />
<polyline points="365.0,460.5 450.0,448.0" fill="none" stroke="#aaaaaa" stroke-width="1.05" stroke-linejoin="round" stroke-linecap="round" />
<polyline points="260.0,460.5 263.8,473.8 267.5,476.2" fill="none" stroke="#aaaaaa" stroke-width="1.05" stroke-linejoin="round" stroke-linecap="round" />
<polyline points="212.5,498.8 217.5,494.5 297.5,482.5 302.0,486.2 304.5,520.0 300.0,523.0 281.2,524.5 280.5,528.8" fill="none" stroke="#aaaaaa" stroke-width="1.05" stroke-linejoin="round" stroke-linecap="round" />
<polygon points="228.8,500.0 292.5,490.0 295.8,520.0 272.0,524.2 232.5,530.0" fill="none" stroke="#aaaaaa" stroke-width="1.05" stroke-linejoin="round" />
<polyline points="272.0,524.2 272.5,530.8 263.8,531.8 275.0,580.0 310.0,574.5" fill="none" stroke="#aaaaaa" stroke-width="1.05" stroke-linejoin="round" stroke-linecap="round" />
<polyline points="302.5,527.5 311.2,572.5 325.0,592.0" fill="none" stroke="#aaaaaa" stroke-width="1.05" stroke-linejoin="round" stroke-linecap="round" />
<polyline points="296.2,528.8 306.2,570.0 300.0,572.5" fill="none" stroke="#aaaaaa" stroke-width="1.05" stroke-linejoin="round" stroke-linecap="round" />
<polyline points="315.0,537.5 347.5,532.5" fill="none" stroke="#aaaaaa" stroke-width="1.05" stroke-linejoin="round" stroke-linecap="round" />
<polyline points="393.8,577.5 443.8,570.5" fill="none" stroke="#aaaaaa" stroke-width="1.05" stroke-linejoin="round" stroke-linecap="round" />
<polyline points="394.5,582.5 444.5,575.5" fill="none" stroke="#aaaaaa" stroke-width="1.05" stroke-linejoin="round" stroke-linecap="round" />
<polyline points="375.0,592.0 376.2,575.0 402.5,571.2 407.5,592.0" fill="none" stroke="#aaaaaa" stroke-width="1.05" stroke-linejoin="round" stroke-linecap="round" />
<polyline points="310.8,460.0 310.4,466.7 312.5,469.2 353.3,463.3 355.4,460.8" fill="none" stroke="#aaaaaa" stroke-width="1.05" stroke-linejoin="round" stroke-linecap="round" />
<polyline points="350.8,472.5 390.4,466.3 391.3,463.3" fill="none" stroke="#aaaaaa" stroke-width="1.05" stroke-linejoin="round" stroke-linecap="round" />
<polyline points="391.7,465.0 400.0,463.8" fill="none" stroke="#aaaaaa" stroke-width="1.05" stroke-linejoin="round" stroke-linecap="round" />
<polyline points="347.5,472.9 347.3,480.8 344.2,488.3 338.3,491.7" fill="none" stroke="#aaaaaa" stroke-width="1.05" stroke-linejoin="round" stroke-linecap="round" />
<polygon points="320.8,495.8 327.1,494.2 337.5,492.1 338.8,503.3 322.5,506.3" fill="none" stroke="#acacac" stroke-width="1.05" stroke-linejoin="round" />
<polyline points="350.4,472.5 350.0,486.7 359.2,486.5 360.0,495.8 354.6,496.7 355.8,503.8 347.5,504.2 349.2,517.5 338.3,518.3 337.5,492.1" fill="none" stroke="#aaaaaa" stroke-width="1.05" stroke-linejoin="round" stroke-linecap="round" />
<polygon points="347.5,506.3 355.4,505.0 355.8,498.3 360.0,498.8 364.2,515.0 357.5,517.5 353.8,519.2 349.2,517.5" fill="none" stroke="#acacac" stroke-width="1.05" stroke-linejoin="round" />
<polyline points="354.2,510.8 364.2,530.0" fill="none" stroke="#bbb" stroke-width="0.8" stroke-linejoin="round" stroke-linecap="round" />
<polyline points="300.0,485.0 304.2,518.3 303.3,530.0" fill="none" stroke="#aaaaaa" stroke-width="1.05" stroke-linejoin="round" stroke-linecap="round" />
<polygon points="375.0,520.0 380.0,519.2 387.0,560.0 382.0,561.0" fill="none" stroke="#acacac" stroke-width="1.05" stroke-linejoin="round" />
<polyline points="376.0,538.0 382.0,537.0" fill="none" stroke="#aaaaaa" stroke-width="1.05" stroke-linejoin="round" stroke-linecap="round" />
<polyline points="379.0,549.0 385.0,548.0" fill="none" stroke="#aaaaaa" stroke-width="1.05" stroke-linejoin="round" stroke-linecap="round" />
<polyline points="280.0,476.2 301.2,470.5" fill="none" stroke="#aaaaaa" stroke-width="1.05" stroke-linejoin="round" stroke-linecap="round" />
<polyline points="490.0,461.2 580.0,427.5" fill="none" stroke="#aaaaaa" stroke-width="1.05" stroke-linejoin="round" stroke-linecap="round" />
<polyline points="468.8,455.0 580.0,438.0" fill="none" stroke="#aaaaaa" stroke-width="1.05" stroke-linejoin="round" stroke-linecap="round" />
<polyline points="827.3,398.0 830.8,392.8 850.0,390.3 937.5,378.8 951.5,382.3 958.5,398.0 970.8,456.8" fill="none" stroke="#aaaaaa" stroke-width="1.05" stroke-linejoin="round" stroke-linecap="round" />
<polyline points="780.0,401.5 816.8,397.3 822.0,401.5 823.8,419.0" fill="none" stroke="#aaaaaa" stroke-width="1.05" stroke-linejoin="round" stroke-linecap="round" />
<polyline points="573.8,612.0 574.7,620.0 582.7,629.3 658.7,617.3 662.7,610.7 660.0,600.0" fill="none" stroke="#aaaaaa" stroke-width="1.05" stroke-linejoin="round" stroke-linecap="round" />
<polyline points="670.0,612.0 670.7,621.3 564.0,640.0 560.0,636.0" fill="none" stroke="#aaaaaa" stroke-width="1.05" stroke-linejoin="round" stroke-linecap="round" />
<polyline points="512.0,553.3 517.3,608.0 460.0,617.3" fill="none" stroke="#aaaaaa" stroke-width="1.05" stroke-linejoin="round" stroke-linecap="round" />
<polyline points="460.0,646.7 522.7,637.3 517.3,608.0" fill="none" stroke="#aaaaaa" stroke-width="1.05" stroke-linejoin="round" stroke-linecap="round" />
<path d="M1115.6,711.4 L1111.6,703.3 L1107.5,663 Q1108,657 1118,656.5 L1129,656.3 Q1152,657 1162,676 Q1166,686 1168,700 L1184.1,782.6" fill="none" stroke="#aaaaaa" stroke-width="1.05" />
<path d="M237.90,755.70 h7 v1.9 h-4.8 v1.15 h4.2 v1.8 h-4.2 v1.25 h5 v1.9 h-7.2 z" fill="#1b7cc6" stroke="none"/>
<polygon points="55.8,245.0 143.3,233.0 160.0,228.7 161.7,229.0 161.7,245.8 124.2,252.5 124.2,257.5 98.3,271.7 60.8,277.5" fill="#6f4fa5" stroke="#2a1f40" stroke-width="0.8" stroke-linejoin="round" />
<polygon points="438.8,21.3 483.8,13.8 496.3,59.5 493.8,61.3 448.8,69.5" fill="#6f4fa5" stroke="#2a1f40" stroke-width="0.8" stroke-linejoin="round" />
<polygon points="387.5,178.0 455.0,163.8 457.5,188.8 391.3,202.0" fill="#6f4fa5" stroke="#2a1f40" stroke-width="0.8" stroke-linejoin="round" />
<polygon points="195.8,711.2 195.0,706.2 198.0,707.0" fill="#999" stroke="none" stroke-width="1" stroke-linejoin="round" />
<polygon points="348.0,270.5 385.0,265.0 386.3,256.3 396.3,254.5 397.5,255.5 422.5,250.8 423.8,255.5 446.3,252.5 450.0,255.5 450.0,258.8 448.0,260.0 452.5,275.0 455.0,282.0 470.0,288.8 473.8,289.5 475.0,293.0 477.5,293.8 480.0,302.5 473.8,305.0 472.5,301.3 450.0,285.0 410.0,293.0 408.8,291.3 396.3,295.0 395.0,293.8 355.0,302.5" fill="#6f4fa5" stroke="#2a1f40" stroke-width="0.8" stroke-linejoin="round" />
<polygon points="857.0,495.0 957.5,478.0 959.5,481.3 966.3,482.0 970.0,506.3 975.0,507.0 976.3,511.3 971.3,512.5 973.0,519.5 977.0,520.5 977.5,523.8 973.8,525.0 984.5,551.3 875.5,574.3 864.5,507.5 860.0,507.0" fill="#e3c44a" stroke="none" stroke-width="1" stroke-linejoin="round" />
<circle cx="542.5" cy="411.3" r="1.5" fill="#bbb" stroke="#bbb" stroke-width="0.5"/>
<polygon points="917.5,578.8 918.8,576.3 983.8,568.8 990.0,573.8 992.5,590.0 996.3,597.5 1007.5,668.8 996.3,670.5 993.8,656.3 996.3,645.0 935.0,653.8 927.5,650.0 917.0,582.5" fill="#e3c44a" stroke="none" stroke-width="1" stroke-linejoin="round" />
<polygon points="543.0,123.3 563.0,109.2 568.7,106.7 585.8,156.3 560.8,162.0 557.5,148.0 549.7,146.7" fill="#e3c44a" stroke="#222" stroke-width="0.9" stroke-linejoin="round" />
<polygon points="583.5,128.0 594.0,125.5 600.0,148.7 587.5,152.0" fill="#e3c44a" stroke="#222" stroke-width="0.9" stroke-linejoin="round" />
<polygon points="858.6,599.0 907.3,591.0 917.1,649.9 921.4,651.0 921.4,654.7 873.8,662.3 865.1,602.9 858.6,602.5" fill="#e3c44a" stroke="#222" stroke-width="0.9" stroke-linejoin="round" />
<polygon points="487.3,94.0 546.9,84.4 547.8,87.3 551.5,86.9 554.8,91.0 556.9,104.8 503.8,113.5 503.1,111.0 483.8,110.6 482.5,106.5 482.3,98.1 487.0,97.3" fill="white" stroke="#222" stroke-width="1.6" stroke-linejoin="round" />
<path d="M408.5,308.7 L430.8,304.4 L436.8,331.8 L453.8,330 L452.1,321.5 L478.6,315.5 L485.5,343.7 L475.2,345.4 A22.5,22.5 0 0 1 484.6,389 L497.4,388.2 L504.3,424.1 L478.6,430 L471.8,393.8 L477.8,391.1 L473.8,377 L468.4,374.5 A8.6,8.6 0 1 1 465,366.8 L470.1,362.5 L467.5,344.9 L458.1,346.3 L441.9,350 L442.7,363.4 L424.8,367.1 L416.2,342.9 Z" fill="white" stroke="#1a1a1a" stroke-width="1.3" />
<polygon points="591.3,212.0 625.0,205.0 626.3,203.0 631.3,202.5 632.5,207.0 638.8,211.3 647.5,217.5 650.0,225.0 653.8,232.5 655.0,236.3 640.0,240.5 638.8,236.3 637.5,231.3 633.8,228.8 600.0,234.5" fill="#e3c44a" stroke="#222" stroke-width="1" stroke-linejoin="round" />
<polygon points="632.5,276.3 660.0,267.5 667.5,293.8 656.3,297.0 661.3,322.5 640.0,329.3 634.5,308.8 650.0,305.0 648.8,300.0 640.0,302.0" fill="white" stroke="#222" stroke-width="1.5" stroke-linejoin="round" />
<polygon points="777.0,521.3 786.3,520.0 801.3,523.8 811.3,530.0 812.5,531.3 800.0,541.3 802.5,551.3 825.0,537.5 823.8,533.8 830.5,531.3 833.8,537.0 848.8,556.3 835.0,566.3 836.3,579.5 801.3,583.8 796.3,572.5 780.0,550.0" fill="white" stroke="#222" stroke-width="1.4" stroke-linejoin="round" />
<polyline points="770.0,418.8 786.2,458.8" fill="none" stroke="#222" stroke-width="0.8" stroke-linejoin="round" stroke-linecap="round" />
<text x="31.3" y="70.8" font-size="14" fill="#262626" stroke="#262626" stroke-width="0.18" transform="rotate(-6.06 31.3 70.8)" textLength="134.5" lengthAdjust="spacingAndGlyphs"><tspan font-weight="normal">Hollinger Ceremony </tspan><tspan font-weight="bold">parking</tspan></text>
<text x="32.5" y="84.5" font-size="12" font-weight="normal" fill="#262626" text-anchor="start" transform="rotate(-6.465932098939534 32.5 84.5)" textLength="151.0" lengthAdjust="spacingAndGlyphs" stroke="#262626" stroke-width="0.18">S. New and Sharpless street structures</text>
<text x="55.0" y="102.0" font-size="14" fill="#262626" stroke="#262626" stroke-width="0.18" transform="rotate(-6.26 55.0 102.0)" textLength="189.9" lengthAdjust="spacingAndGlyphs"><tspan font-weight="normal">Hollinger Ceremony </tspan><tspan font-weight="bold">accessible parking</tspan></text>
<text x="56.3" y="115.8" font-size="12.2" font-weight="normal" fill="#262626" text-anchor="start" transform="rotate(-7.487388197143644 56.3 115.8)" textLength="70.6" lengthAdjust="spacingAndGlyphs" stroke="#262626" stroke-width="0.18">Commons Garage</text>
<text x="264.3" y="42.5" font-size="14" fill="#262626" stroke="#262626" stroke-width="0.18" transform="rotate(-6.26 264.3 42.5)" textLength="96.3" lengthAdjust="spacingAndGlyphs"><tspan font-weight="normal">Hollinger </tspan><tspan font-weight="bold">Ceremony</tspan></text>
<text x="266.3" y="58.0" font-size="11" font-weight="normal" fill="#262626" text-anchor="start" transform="rotate(-7.026431497865641 266.3 58.0)" textLength="79.3" lengthAdjust="spacingAndGlyphs" stroke="#262626" stroke-width="0.18">Hollinger Fieldhouse</text>
<text x="686.0" y="85.0" font-size="13.5" fill="#262626" stroke="#262626" stroke-width="0.18" transform="rotate(-10.95 686.0 85.0)" textLength="186.4" lengthAdjust="spacingAndGlyphs"><tspan font-weight="normal">Asplundh Ceremony </tspan><tspan font-weight="bold">accessible parking</tspan></text>
<text x="688.0" y="101.0" font-size="11" font-weight="normal" fill="#262626" text-anchor="start" transform="rotate(-11 688.0 101.0)" textLength="18.4" lengthAdjust="spacingAndGlyphs" stroke="#262626" stroke-width="0.18">B lot</text>
<text x="702.0" y="151.0" font-size="14" fill="#262626" stroke="#262626" stroke-width="0.18" transform="rotate(-14.97 702.0 151.0)" textLength="98.3" lengthAdjust="spacingAndGlyphs"><tspan font-weight="normal">Asplundh </tspan><tspan font-weight="bold">Ceremony</tspan></text>
<text x="705.6" y="166.0" font-size="11" font-weight="normal" fill="#262626" text-anchor="start" transform="rotate(-13.059309025825323 705.6 166.0)" textLength="119.5" lengthAdjust="spacingAndGlyphs" stroke="#262626" stroke-width="0.18">Asplundh Concert Hall (Philips)</text>
<text x="609.5" y="710" font-size="13.5" fill="#262626" textLength="136.8" lengthAdjust="spacingAndGlyphs">Asplundh Ceremony <tspan font-weight="bold">parking</tspan></text>
<text x="609.5" y="725" font-size="10.5" fill="#262626" textLength="126.8" lengthAdjust="spacingAndGlyphs">Matlack Structure, lots M and M1</text>
<text x="255.5" y="764.7" font-size="14" fill="#262626" textLength="90.6" lengthAdjust="spacingAndGlyphs">Emergency phones</text>
<rect x="232" y="769.1" width="18.7" height="10.5" fill="#6f4fa5"/>
<text x="255.5" y="779.6" font-size="14" fill="#262626" textLength="138" lengthAdjust="spacingAndGlyphs">Hollinger Ceremony locations</text>
<rect x="415.4" y="768.5" width="18.3" height="10.4" fill="#e3c44a" stroke="#8a7a30" stroke-width="0.5"/>
<text x="438.5" y="779.6" font-size="14" fill="#262626" textLength="140.3" lengthAdjust="spacingAndGlyphs">Asplundh Ceremony locations</text>
<text x="0" y="0" font-size="11.5" fill="#262626" stroke="#262626" stroke-width="0.3" text-anchor="middle" transform="translate(262.1 800.3) scale(0.8 1)">1</text>
<text x="277.6" y="801.8" font-size="14" fill="#262626" textLength="35.8" lengthAdjust="spacingAndGlyphs">Parking</text>
<text x="0" y="0" font-size="11.5" fill="#262626" stroke="#262626" stroke-width="0.3" text-anchor="middle" transform="translate(262.1 820.9) scale(0.8 1)">2</text>
<text x="277.6" y="822.4" font-size="14" fill="#262626" textLength="48.4" lengthAdjust="spacingAndGlyphs">Ceremony</text>
<text x="0" y="0" font-size="11.5" fill="#262626" stroke="#262626" stroke-width="0.3" text-anchor="middle" transform="translate(445.5 800.3) scale(0.8 1)">1</text>
<text x="461.0" y="801.8" font-size="14" fill="#262626" textLength="35.8" lengthAdjust="spacingAndGlyphs">Parking</text>
<text x="0" y="0" font-size="11.5" fill="#262626" stroke="#262626" stroke-width="0.3" text-anchor="middle" transform="translate(445.5 820.9) scale(0.8 1)">2</text>
<text x="461.0" y="822.4" font-size="14" fill="#262626" textLength="48.4" lengthAdjust="spacingAndGlyphs">Ceremony</text>
<text font-size="5.5" font-weight="normal" fill="#444" stroke="#444" stroke-width="0.12" text-anchor="middle" transform="translate(227.5 162.5) rotate(-5) scale(0.88 1) translate(-227.5 -162.5)"><tspan x="227.5" y="158.7">STUDENT</tspan><tspan x="227.5" y="164.4">RECREATION</tspan><tspan x="227.5" y="170.2">CENTER</tspan></text>
<text x="112.5" y="127.5" font-size="5" font-weight="bold" fill="#333" text-anchor="middle" transform="rotate(-8 112.5 127.5)" >SHARPLESS STREET</text>
<text x="110.0" y="224.5" font-size="5.5" font-weight="bold" fill="#333" text-anchor="middle" transform="rotate(-8 110.0 224.5)" >WEST NIELDS STREET</text>
<text font-size="5.5" font-weight="bold" fill="#2a2a2a" stroke="#2a2a2a" stroke-width="0.12" text-anchor="middle" transform="translate(103.8 441.2) rotate(-84) scale(0.88 1) translate(-103.8 -441.2)"><tspan x="103.8" y="443.2">SOUTH WAYNE STREET</tspan></text>
<text font-size="5.5" font-weight="bold" fill="#2a2a2a" stroke="#2a2a2a" stroke-width="0.12" text-anchor="middle" transform="translate(193.8 353.8) rotate(-84) scale(0.88 1) translate(-193.8 -353.8)"><tspan x="193.8" y="355.7">SOUTH NEW STREET</tspan></text>
<text font-size="5.5" font-weight="normal" fill="#2a2a2a" stroke="#2a2a2a" stroke-width="0.12" text-anchor="middle" transform="translate(220.0 371.2) rotate(-84) scale(0.88 1) translate(-220.0 -371.2)"><tspan x="220.0" y="373.2">COMMONWEALTH HALL</tspan></text>
<text font-size="5.5" font-weight="normal" fill="#2a2a2a" stroke="#2a2a2a" stroke-width="0.12" text-anchor="middle" transform="translate(243.8 423.8) rotate(95) scale(0.88 1) translate(-243.8 -423.8)"><tspan x="243.8" y="425.7">SCHMIDT</tspan></text>
<text font-size="5.5" font-weight="normal" fill="#2a2a2a" stroke="#2a2a2a" stroke-width="0.12" text-anchor="middle" transform="translate(262.0 438.8) rotate(-6) scale(0.88 1) translate(-262.0 -438.8)"><tspan x="262.0" y="440.7">HALL</tspan></text>
<text font-size="5.5" font-weight="bold" fill="#2a2a2a" stroke="#2a2a2a" stroke-width="0.12" text-anchor="middle" transform="translate(132.5 661.2) rotate(-77) scale(0.88 1) translate(-132.5 -661.2)"><tspan x="132.5" y="660.3">NEWMAN</tspan><tspan x="132.5" y="666.1">CENTER</tspan></text>
<text font-size="5" font-weight="normal" fill="#2a2a2a" stroke="#2a2a2a" stroke-width="0.12" text-anchor="middle" transform="translate(163.0 655.0) rotate(15) scale(0.88 1) translate(-163.0 -655.0)"><tspan x="163.0" y="656.8">Trinity Drive</tspan></text>
<text font-size="6" font-weight="bold" fill="#2a2a2a" stroke="#2a2a2a" stroke-width="0.12" text-anchor="middle" transform="translate(190.0 627.5) rotate(-75) scale(0.88 1) translate(-190.0 -627.5)"><tspan x="190.0" y="629.6">SOUTH NEW STREET</tspan></text>
<text font-size="5.5" font-weight="bold" fill="#2a2a2a" stroke="#2a2a2a" stroke-width="0.12" text-anchor="middle" transform="translate(198.0 680.0) rotate(-75) scale(0.88 1) translate(-198.0 -680.0)"><tspan x="198.0" y="681.9">TO SOUTH CAMPUS</tspan></text>
<text font-size="5.5" font-weight="bold" fill="#2a2a2a" stroke="#2a2a2a" stroke-width="0.12" text-anchor="middle" transform="translate(313.8 548.8) rotate(-80) scale(0.88 1) translate(-313.8 -548.8)"><tspan x="313.8" y="550.7">ROSLYN AVE.</tspan></text>
<text font-size="5.5" font-weight="bold" fill="#2a2a2a" stroke="#2a2a2a" stroke-width="0.12" text-anchor="middle" transform="translate(262.0 511.2) rotate(-5) scale(0.88 1) translate(-262.0 -511.2)"><tspan x="262.0" y="513.2">LOT L</tspan></text>
<text font-size="6.5" font-weight="bold" fill="#f4f0fa" text-anchor="middle" transform="rotate(-9 374.2 280.0)"><tspan x="374.2" y="278.7">HOLLINGER</tspan><tspan x="374.2" y="285.8">FIELDHOUSE</tspan></text>
<text font-size="6.5" font-weight="bold" fill="#f4f0fa" text-anchor="middle" transform="rotate(-9 424.2 269.2)"><tspan x="424.2" y="267.9">EHINGER</tspan><tspan x="424.2" y="275.0">GYMNASIUM</tspan></text>
<text font-size="7" font-weight="bold" fill="#f4f0fa" text-anchor="middle" transform="rotate(-12 422.5 182.0)"><tspan x="422.5" y="180.4">COMMONS</tspan><tspan x="422.5" y="188.4">PARKING GARAGE</tspan></text>
<text font-size="7" font-weight="bold" fill="#f4f0fa" text-anchor="middle" transform="rotate(-9 97.5 251.0)"><tspan x="97.5" y="249.2">S. NEW ST. PARKING</tspan><tspan x="97.5" y="257.7">STRUCTURE</tspan></text>
<text font-size="5.5" font-weight="bold" fill="#f4f0fa" text-anchor="middle" transform="rotate(-10 466.0 40.0)"><tspan x="466.0" y="35.4">SHARPLESS</tspan><tspan x="466.0" y="41.9">PARKING</tspan><tspan x="466.0" y="48.4">STRUCTURE</tspan></text>
<text font-size="5.8" font-weight="bold" fill="#2a2a2a" stroke="#2a2a2a" stroke-width="0.12" text-anchor="middle" transform="translate(426.5 336.0) rotate(78) scale(0.88 1) translate(-426.5 -336.0)"><tspan x="426.5" y="338.0">MERION SCI CTR</tspan></text>
<text font-size="6" font-weight="bold" fill="#2a2a2a" stroke="#2a2a2a" stroke-width="0.12" text-anchor="middle" transform="translate(468.4 331.8) rotate(-9) scale(0.88 1) translate(-468.4 -331.8)"><tspan x="468.4" y="330.8">SSC</tspan><tspan x="468.4" y="337.1">NORTH</tspan></text>
<text font-size="6" font-weight="bold" fill="#2a2a2a" stroke="#2a2a2a" stroke-width="0.12" text-anchor="middle" transform="translate(481.2 365.1) rotate(-9) scale(0.88 1) translate(-481.2 -365.1)"><tspan x="481.2" y="364.1">SSC</tspan><tspan x="481.2" y="370.4">LINK</tspan></text>
<text font-size="6" font-weight="bold" fill="#2a2a2a" stroke="#2a2a2a" stroke-width="0.12" text-anchor="middle" transform="translate(488.0 407.8) rotate(-9) scale(0.88 1) translate(-488.0 -407.8)"><tspan x="488.0" y="406.8">SSC</tspan><tspan x="488.0" y="413.1">SOUTH</tspan></text>
<text font-size="6.5" font-weight="normal" fill="#2a2a2a" stroke="#2a2a2a" stroke-width="0.12" text-anchor="middle" transform="translate(350.0 237.5) rotate(-9) scale(0.88 1) translate(-350.0 -237.5)"><tspan x="350.0" y="239.8">COMMONS BUILDING</tspan></text>
<text font-size="6.5" font-weight="normal" fill="#2a2a2a" stroke="#2a2a2a" stroke-width="0.12" text-anchor="middle" transform="translate(330.8 194.2) rotate(0) scale(0.88 1) translate(-330.8 -194.2)"><tspan x="330.8" y="193.0">WATER</tspan><tspan x="330.8" y="199.9">TOWER</tspan></text>
<text font-size="6.5" font-weight="normal" fill="#2a2a2a" stroke="#2a2a2a" stroke-width="0.12" text-anchor="middle" transform="translate(439.2 215.8) rotate(-9) scale(0.88 1) translate(-439.2 -215.8)"><tspan x="439.2" y="218.1">PEOPLES BLDG.</tspan></text>
<text font-size="5.5" font-weight="normal" fill="#2a2a2a" stroke="#2a2a2a" stroke-width="0.12" text-anchor="middle" transform="translate(303.3 163.3) rotate(-40) scale(0.88 1) translate(-303.3 -163.3)"><tspan x="303.3" y="165.3">TYSON</tspan></text>
<text font-size="5.5" font-weight="normal" fill="#2a2a2a" stroke="#2a2a2a" stroke-width="0.12" text-anchor="middle" transform="translate(329.2 160.0) rotate(25) scale(0.88 1) translate(-329.2 -160.0)"><tspan x="329.2" y="161.9">HALL</tspan></text>
<text font-size="8.8" font-weight="bold" fill="#222" stroke="#222" stroke-width="0.12" text-anchor="middle" transform="translate(316.2 318.8) rotate(-9) scale(0.88 1) translate(-316.2 -318.8)"><tspan x="316.2" y="321.8">Hall</tspan></text>
<text font-size="5.5" font-weight="normal" fill="#2a2a2a" stroke="#2a2a2a" stroke-width="0.12" text-anchor="middle" transform="translate(380.0 346.2) rotate(80) scale(0.88 1) translate(-380.0 -346.2)"><tspan x="380.0" y="348.2">ALLEGHENY HALL</tspan></text>
<text font-size="6" font-weight="normal" fill="#2a2a2a" stroke="#2a2a2a" stroke-width="0.12" text-anchor="middle" transform="translate(526.2 318.8) rotate(78) scale(0.88 1) translate(-526.2 -318.8)"><tspan x="526.2" y="320.9">ANDERSON HALL</tspan></text>
<text font-size="6" font-weight="normal" fill="#2a2a2a" stroke="#2a2a2a" stroke-width="0.12" text-anchor="middle" transform="translate(563.8 331.2) rotate(78) scale(0.88 1) translate(-563.8 -331.2)"><tspan x="563.8" y="330.2">RECITATION</tspan><tspan x="563.8" y="336.5">HALL</tspan></text>
<text font-size="6" font-weight="normal" fill="#2a2a2a" stroke="#2a2a2a" stroke-width="0.12" text-anchor="middle" transform="translate(538.8 258.8) rotate(-9) scale(0.88 1) translate(-538.8 -258.8)"><tspan x="538.8" y="257.7">RUBY JONES</tspan><tspan x="538.8" y="264.0">HALL</tspan></text>
<text font-size="5.5" font-weight="bold" fill="#2a2a2a" stroke="#2a2a2a" stroke-width="0.12" text-anchor="middle" transform="translate(491.2 280.0) rotate(78) scale(0.88 1) translate(-491.2 -280.0)"><tspan x="491.2" y="281.9">SOUTH CHURCH STREET</tspan></text>
<text font-size="5.5" font-weight="bold" fill="#2a2a2a" stroke="#2a2a2a" stroke-width="0.12" text-anchor="middle" transform="translate(552.5 210.0) rotate(-9) scale(0.88 1) translate(-552.5 -210.0)"><tspan x="552.5" y="211.9">UNIVERSITY AVENUE</tspan></text>
<text font-size="6.5" font-weight="bold" fill="#2a2a2a" stroke="#2a2a2a" stroke-width="0.12" text-anchor="middle" transform="translate(612.0 218.0) rotate(-9) scale(0.88 1) translate(-612.0 -218.0)"><tspan x="612.0" y="213.5">PHILIPS</tspan><tspan x="612.0" y="220.3">MEMORIAL</tspan><tspan x="612.0" y="227.1">BLDG</tspan></text>
<text font-size="6" font-weight="bold" fill="#2a2a2a" stroke="#2a2a2a" stroke-width="0.12" text-anchor="middle" transform="translate(648.8 285.0) rotate(-9) scale(0.88 1) translate(-648.8 -285.0)"><tspan x="648.8" y="284.0">MAIN</tspan><tspan x="648.8" y="290.3">HALL</tspan></text>
<text font-size="6.5" font-weight="normal" fill="#2a2a2a" stroke="#2a2a2a" stroke-width="0.12" text-anchor="middle" transform="translate(626.2 377.5) rotate(-9) scale(0.88 1) translate(-626.2 -377.5)"><tspan x="626.2" y="379.8">F.H.G. LIBRARY</tspan></text>
<text font-size="5.8" font-weight="bold" fill="#2a2a2a" stroke="#2a2a2a" stroke-width="0.12" text-anchor="middle" transform="translate(698.8 317.5) rotate(72) scale(0.88 1) translate(-698.8 -317.5)"><tspan x="698.8" y="319.5">SOUTH HIGH STREET</tspan></text>
<text font-size="6.5" font-weight="normal" fill="#2a2a2a" stroke="#2a2a2a" stroke-width="0.12" text-anchor="middle" transform="translate(690.0 348.8) rotate(-9) scale(0.88 1) translate(-690.0 -348.8)"><tspan x="690.0" y="344.0">OLD</tspan><tspan x="690.0" y="351.0">MAIN</tspan><tspan x="690.0" y="358.0">ARCH</tspan></text>
<text font-size="6" font-weight="normal" fill="#2a2a2a" stroke="#2a2a2a" stroke-width="0.12" text-anchor="middle" transform="translate(702.5 247.5) rotate(-9) scale(0.88 1) translate(-702.5 -247.5)"><tspan x="702.5" y="249.6">LINDEN ST.</tspan></text>
<text font-size="6" font-weight="bold" fill="#2a2a2a" stroke="#2a2a2a" stroke-width="0.12" text-anchor="middle" transform="translate(675.3 195.7) rotate(-18) scale(0.88 1) translate(-675.3 -195.7)"><tspan x="675.3" y="197.8">LOT G</tspan></text>
<text font-size="5.8" font-weight="bold" fill="#2a2a2a" stroke="#2a2a2a" stroke-width="0.12" text-anchor="middle" transform="translate(755.0 306.3) rotate(72) scale(0.88 1) translate(-755.0 -306.3)"><tspan x="755.0" y="308.3">SHARON ALLEY</tspan></text>
<text font-size="5.8" font-weight="bold" fill="#2a2a2a" stroke="#2a2a2a" stroke-width="0.12" text-anchor="middle" transform="translate(807.5 296.3) rotate(72) scale(0.88 1) translate(-807.5 -296.3)"><tspan x="807.5" y="298.3">WALNUT STREET</tspan></text>
<text font-size="5.8" font-weight="bold" fill="#2a2a2a" stroke="#2a2a2a" stroke-width="0.12" text-anchor="middle" transform="translate(873.8 291.3) rotate(72) scale(0.88 1) translate(-873.8 -291.3)"><tspan x="873.8" y="293.3">MECHANICS ALLEY</tspan></text>
<text font-size="5.8" font-weight="bold" fill="#2a2a2a" stroke="#2a2a2a" stroke-width="0.12" text-anchor="middle" transform="translate(935.0 281.3) rotate(72) scale(0.88 1) translate(-935.0 -281.3)"><tspan x="935.0" y="283.3">MATLACK STREET</tspan></text>
<text font-size="5.8" font-weight="bold" fill="#2a2a2a" stroke="#2a2a2a" stroke-width="0.12" text-anchor="middle" transform="translate(982.5 273.8) rotate(72) scale(0.88 1) translate(-982.5 -273.8)"><tspan x="982.5" y="275.8">MAPLE ALLEY</tspan></text>
<text font-size="5.8" font-weight="bold" fill="#2a2a2a" stroke="#2a2a2a" stroke-width="0.12" text-anchor="middle" transform="translate(1052.5 272.0) rotate(72) scale(0.88 1) translate(-1052.5 -272.0)"><tspan x="1052.5" y="274.0">FRANKLIN STREET</tspan></text>
<text font-size="6" font-weight="bold" fill="#2a2a2a" stroke="#2a2a2a" stroke-width="0.12" text-anchor="middle" transform="translate(892.5 378.8) rotate(-8) scale(0.88 1) translate(-892.5 -378.8)"><tspan x="892.5" y="380.9">EAST ROSEDALE AVENUE</tspan></text>
<text font-size="7.5" font-weight="bold" fill="#333" stroke="#333" stroke-width="0.12" text-anchor="middle" transform="translate(924.5 528.0) rotate(-9) scale(0.88 1) translate(-924.5 -528.0)"><tspan x="924.5" y="530.6">LOT M</tspan></text>
<text font-size="6.5" font-weight="normal" fill="#2a2a2a" stroke="#2a2a2a" stroke-width="0.12" text-anchor="middle" transform="translate(772.5 412.5) rotate(-8) scale(0.88 1) translate(-772.5 -412.5)"><tspan x="772.5" y="414.8">E.O. BULL CENTER</tspan></text>
<text font-size="6.8" font-weight="normal" fill="#2a2a2a" stroke="#2a2a2a" stroke-width="0.12" text-anchor="middle" transform="translate(881.2 450.0) rotate(-8) scale(0.88 1) translate(-881.2 -450.0)"><tspan x="881.2" y="448.9">TANGLEWOOD</tspan><tspan x="881.2" y="455.9">100 E. ROSEDALE AVE.</tspan></text>
<text font-size="6" font-weight="bold" fill="#2a2a2a" stroke="#2a2a2a" stroke-width="0.12" text-anchor="middle" transform="translate(890.0 478.8) rotate(-9) scale(0.88 1) translate(-890.0 -478.8)"><tspan x="890.0" y="480.9">MADELEINE WING ADLER THEATRE</tspan></text>
<text font-size="6.5" font-weight="normal" fill="#2a2a2a" stroke="#2a2a2a" stroke-width="0.12" text-anchor="middle" transform="translate(1017.5 428.8) rotate(-8) scale(0.88 1) translate(-1017.5 -428.8)"><tspan x="1017.5" y="427.6">FAME</tspan><tspan x="1017.5" y="434.4">FIREHOUSE</tspan></text>
<text font-size="6" font-weight="bold" fill="#2a2a2a" stroke="#2a2a2a" stroke-width="0.12" text-anchor="middle" transform="translate(1002.5 490.0) rotate(-9) scale(0.88 1) translate(-1002.5 -490.0)"><tspan x="1002.5" y="492.1">LOT W</tspan></text>
<text font-size="5.8" font-weight="normal" fill="#2a2a2a" stroke="#2a2a2a" stroke-width="0.12" text-anchor="middle" transform="translate(806.2 591.2) rotate(-9) scale(0.88 1) translate(-806.2 -591.2)"><tspan x="806.2" y="593.3">EAST CAMPUS DR</tspan></text>
<text font-size="6.5" font-weight="normal" fill="#2a2a2a" stroke="#2a2a2a" stroke-width="0.12" text-anchor="middle" transform="translate(307.5 426.2) rotate(-9) scale(0.88 1) translate(-307.5 -426.2)"><tspan x="307.5" y="428.5">WAYNE</tspan></text>
<text font-size="6.5" font-weight="normal" fill="#2a2a2a" stroke="#2a2a2a" stroke-width="0.12" text-anchor="middle" transform="translate(333.0 417.5) rotate(-9) scale(0.88 1) translate(-333.0 -417.5)"><tspan x="333.0" y="419.8">HALL</tspan></text>
<text font-size="6.5" font-weight="normal" fill="#2a2a2a" stroke="#2a2a2a" stroke-width="0.12" text-anchor="middle" transform="translate(419.5 405.0) rotate(-9) scale(0.88 1) translate(-419.5 -405.0)"><tspan x="419.5" y="407.3">KILLINGER HALL</tspan></text>
<text font-size="6" font-weight="normal" fill="#2a2a2a" stroke="#2a2a2a" stroke-width="0.12" text-anchor="middle" transform="translate(562.0 395.0) rotate(78) scale(0.88 1) translate(-562.0 -395.0)"><tspan x="562.0" y="394.0">OLD</tspan><tspan x="562.0" y="400.3">LIBRARY</tspan></text>
<text font-size="5.5" font-weight="normal" fill="#2a2a2a" stroke="#2a2a2a" stroke-width="0.12" text-anchor="middle" transform="translate(558.0 423.0) rotate(-9) scale(0.88 1) translate(-558.0 -423.0)"><tspan x="558.0" y="422.0">RAM</tspan><tspan x="558.0" y="427.8">SCULPTURE</tspan></text>
<text font-size="7.2" font-weight="normal" fill="#2a2a2a" stroke="#2a2a2a" stroke-width="0.12" text-anchor="middle" transform="translate(440.0 513.8) rotate(-9) scale(0.88 1) translate(-440.0 -513.8)"><tspan x="440.0" y="512.5">SYKES STUDENT</tspan><tspan x="440.0" y="520.0">UNION</tspan></text>
<text font-size="7" font-weight="normal" fill="#2a2a2a" stroke="#2a2a2a" stroke-width="0.12" text-anchor="middle" transform="translate(521.2 486.2) rotate(-9) scale(0.88 1) translate(-521.2 -486.2)"><tspan x="521.2" y="484.9">MCKELVIE</tspan><tspan x="521.2" y="492.4">HALL</tspan></text>
<text font-size="6" font-weight="bold" fill="#2a2a2a" stroke="#2a2a2a" stroke-width="0.12" text-anchor="middle" transform="translate(446.2 552.5) rotate(-5) scale(0.88 1) translate(-446.2 -552.5)"><tspan x="446.2" y="554.6">LOT K</tspan></text>
<text font-size="5.8" font-weight="bold" fill="#2a2a2a" stroke="#2a2a2a" stroke-width="0.12" text-anchor="middle" transform="translate(553.8 517.5) rotate(78) scale(0.88 1) translate(-553.8 -517.5)"><tspan x="553.8" y="519.5">CHURCH</tspan></text>
<text font-size="5.8" font-weight="bold" fill="#2a2a2a" stroke="#2a2a2a" stroke-width="0.12" text-anchor="middle" transform="translate(563.8 570.0) rotate(78) scale(0.88 1) translate(-563.8 -570.0)"><tspan x="563.8" y="572.0">STREET</tspan></text>
<text font-size="6" font-weight="bold" fill="#2a2a2a" stroke="#2a2a2a" stroke-width="0.12" text-anchor="middle" transform="translate(497.5 25.0) rotate(-9) scale(0.88 1) translate(-497.5 -25.0)"><tspan x="497.5" y="27.1">LOT A</tspan></text>
<text font-size="7" font-weight="normal" fill="#2a2a2a" stroke="#2a2a2a" stroke-width="0.12" text-anchor="middle" transform="translate(515.0 115.0) rotate(-9) scale(0.88 1) translate(-515.0 -115.0)"><tspan x="515.0" y="117.5">REYNOLDS HALL</tspan></text>
<text font-size="6.5" font-weight="normal" fill="#2a2a2a" stroke="#2a2a2a" stroke-width="0.12" text-anchor="middle" transform="translate(488.8 147.5) rotate(80) scale(0.88 1) translate(-488.8 -147.5)"><tspan x="488.8" y="149.8">MITCHELL HALL</tspan></text>
<text font-size="6.8" font-weight="normal" fill="#2a2a2a" stroke="#2a2a2a" stroke-width="0.12" text-anchor="middle" transform="translate(532.5 176.2) rotate(-9) scale(0.88 1) translate(-532.5 -176.2)"><tspan x="532.5" y="174.9">25 UNIVERSITY</tspan><tspan x="532.5" y="182.4">AVENUE</tspan></text>
<text font-size="6.5" font-weight="normal" fill="#2a2a2a" stroke="#2a2a2a" stroke-width="0.12" text-anchor="middle" transform="translate(575.0 167.5) rotate(-9) scale(0.88 1) translate(-575.0 -167.5)"><tspan x="575.0" y="169.8">13/15</tspan></text>
<text font-size="6.5" font-weight="normal" fill="#2a2a2a" stroke="#2a2a2a" stroke-width="0.12" text-anchor="middle" transform="translate(615.5 165.0) rotate(-9) scale(0.88 1) translate(-615.5 -165.0)"><tspan x="615.5" y="163.8">FILANO</tspan><tspan x="615.5" y="170.8">HALL</tspan></text>
<text font-size="5" font-weight="bold" fill="#2a2a2a" stroke="#2a2a2a" stroke-width="0.12" text-anchor="middle" transform="translate(568.8 85.0) rotate(72) scale(0.88 1) translate(-568.8 -85.0)"><tspan x="568.8" y="86.8">REYNOLDS ALLEY</tspan></text>
<text font-size="5.5" font-weight="bold" fill="#2a2a2a" stroke="#2a2a2a" stroke-width="0.12" text-anchor="middle" transform="translate(462.5 150.0) rotate(78) scale(0.88 1) translate(-462.5 -150.0)"><tspan x="462.5" y="151.9">SOUTH CHURCH STREET</tspan></text>
<text font-size="6.8" font-weight="bold" fill="#2a2a2a" stroke="#2a2a2a" stroke-width="0.12" text-anchor="middle" transform="translate(695.5 119.5) rotate(-12) scale(0.88 1) translate(-695.5 -119.5)"><tspan x="695.5" y="121.9">EAST NIELDS STREET</tspan></text>
<text font-size="6" font-weight="bold" fill="#2a2a2a" stroke="#2a2a2a" stroke-width="0.12" text-anchor="middle" transform="translate(520.0 99.0) rotate(-9) scale(0.88 1) translate(-520.0 -99.0)"><tspan x="520.0" y="98.0">BUSINESS &amp; PUBLIC</tspan><tspan x="520.0" y="104.2">MANAGEMENT CENTER</tspan></text>
<text font-size="8.5" font-weight="bold" fill="#333" stroke="#333" stroke-width="0.12" text-anchor="middle" transform="translate(955.0 610.0) rotate(-9) scale(0.88 1) translate(-955.0 -610.0)"><tspan x="955.0" y="613.0">LOT M1</tspan></text>
<text font-size="6.2" font-weight="normal" fill="#555" stroke="#555" stroke-width="0.12" text-anchor="middle" transform="translate(887.0 624.5) rotate(-9) scale(0.88 1) translate(-887.0 -624.5)"><tspan x="887.0" y="619.9">MATLACK</tspan><tspan x="887.0" y="626.7">PARKING</tspan><tspan x="887.0" y="633.5">STRUCTURE</tspan></text>
<text font-size="6" font-weight="bold" fill="#2a2a2a" stroke="#2a2a2a" stroke-width="0.12" text-anchor="middle" transform="translate(1065.0 577.5) rotate(-9) scale(0.88 1) translate(-1065.0 -577.5)"><tspan x="1065.0" y="579.6">LOT V</tspan></text>
<text font-size="7" font-weight="normal" fill="#2a2a2a" stroke="#2a2a2a" stroke-width="0.12" text-anchor="middle" transform="translate(1070.0 605.0) rotate(-9) scale(0.88 1) translate(-1070.0 -605.0)"><tspan x="1070.0" y="607.5">201 CARTER DRIVE</tspan></text>
<text font-size="6" font-weight="bold" fill="#2a2a2a" stroke="#2a2a2a" stroke-width="0.12" text-anchor="middle" transform="translate(1088.0 640.0) rotate(-9) scale(0.88 1) translate(-1088.0 -640.0)"><tspan x="1088.0" y="642.1">LOT U</tspan></text>
<text font-size="5.8" font-weight="bold" fill="#2a2a2a" stroke="#2a2a2a" stroke-width="0.12" text-anchor="middle" transform="translate(1002.5 602.5) rotate(72) scale(0.88 1) translate(-1002.5 -602.5)"><tspan x="1002.5" y="604.5">SOUTH MATLACK STREET</tspan></text>
<text font-size="7" font-weight="normal" fill="#2a2a2a" stroke="#2a2a2a" stroke-width="0.12" text-anchor="middle" transform="translate(931.2 681.0) rotate(-9) scale(0.88 1) translate(-931.2 -681.0)"><tspan x="931.2" y="683.5">MATLACK FIELDS</tspan></text>
<text font-size="6" font-weight="bold" fill="#2a2a2a" stroke="#2a2a2a" stroke-width="0.12" text-anchor="middle" transform="translate(986.2 682.2) rotate(-9) scale(0.88 1) translate(-986.2 -682.2)"><tspan x="986.2" y="684.4">LOT M2</tspan></text>
<text font-size="6" font-weight="bold" fill="#2a2a2a" stroke="#2a2a2a" stroke-width="0.12" text-anchor="middle" transform="translate(898.8 711.0) rotate(-9) scale(0.88 1) translate(-898.8 -711.0)"><tspan x="898.8" y="713.1">319</tspan></text>
<text font-size="6" font-weight="bold" fill="#2a2a2a" stroke="#2a2a2a" stroke-width="0.12" text-anchor="middle" transform="translate(960.0 699.8) rotate(-9) scale(0.88 1) translate(-960.0 -699.8)"><tspan x="960.0" y="701.9">320</tspan></text>
<text font-size="6.5" font-weight="normal" fill="#2a2a2a" stroke="#2a2a2a" stroke-width="0.12" text-anchor="middle" transform="translate(980.0 781.0) rotate(-9) scale(0.88 1) translate(-980.0 -781.0)"><tspan x="980.0" y="776.3">202 CARTER DRIVE</tspan><tspan x="980.0" y="783.3">(WCU ALLUMNI &amp;</tspan><tspan x="980.0" y="790.3">FOUNDATION CENTER)</tspan></text>
<text font-size="6" font-weight="bold" fill="#2a2a2a" stroke="#2a2a2a" stroke-width="0.12" text-anchor="middle" transform="translate(1057.5 799.8) rotate(-9) scale(0.88 1) translate(-1057.5 -799.8)"><tspan x="1057.5" y="801.9">LOT M4</tspan></text>
<text font-size="6" font-weight="normal" fill="#2a2a2a" stroke="#2a2a2a" stroke-width="0.12" text-anchor="middle" transform="translate(1095.8 724.8) rotate(-9) scale(0.88 1) translate(-1095.8 -724.8)"><tspan x="1095.8" y="726.9">202 CARTER DRIVE</tspan></text>
<text font-size="7.2" font-weight="normal" fill="#2a2a2a" stroke="#2a2a2a" stroke-width="0.12" text-anchor="middle" transform="translate(583.8 488.8) rotate(-9) scale(0.88 1) translate(-583.8 -488.8)"><tspan x="583.8" y="487.5">MESSIKOMER HALL</tspan><tspan x="583.8" y="495.0">(Admissions)</tspan></text>
<text font-size="5.8" font-weight="bold" fill="#2a2a2a" stroke="#2a2a2a" stroke-width="0.12" text-anchor="middle" transform="translate(553.8 517.5) rotate(78) scale(0.88 1) translate(-553.8 -517.5)"><tspan x="553.8" y="519.5">CHURCH</tspan></text>
<text font-size="5.8" font-weight="bold" fill="#2a2a2a" stroke="#2a2a2a" stroke-width="0.12" text-anchor="middle" transform="translate(563.8 570.0) rotate(78) scale(0.88 1) translate(-563.8 -570.0)"><tspan x="563.8" y="572.0">STREET</tspan></text>
<text font-size="5.8" font-weight="bold" fill="#2a2a2a" stroke="#2a2a2a" stroke-width="0.12" text-anchor="middle" transform="translate(649.2 505.0) rotate(78) scale(0.88 1) translate(-649.2 -505.0)"><tspan x="649.2" y="507.0">CEDAR</tspan></text>
<text font-size="5.8" font-weight="bold" fill="#2a2a2a" stroke="#2a2a2a" stroke-width="0.12" text-anchor="middle" transform="translate(696.2 521.8) rotate(-9) scale(0.88 1) translate(-696.2 -521.8)"><tspan x="696.2" y="523.8">AVENUE</tspan></text>
<text font-size="5.8" font-weight="bold" fill="#2a2a2a" stroke="#2a2a2a" stroke-width="0.12" text-anchor="middle" transform="translate(605.5 537.0) rotate(-9) scale(0.88 1) translate(-605.5 -537.0)"><tspan x="605.5" y="539.0">NORFOLK</tspan></text>
<text font-size="5.8" font-weight="bold" fill="#2a2a2a" stroke="#2a2a2a" stroke-width="0.12" text-anchor="middle" transform="translate(657.5 557.5) rotate(78) scale(0.88 1) translate(-657.5 -557.5)"><tspan x="657.5" y="559.5">AVENUE</tspan></text>
<text font-size="7" font-weight="bold" fill="#2a2a2a" stroke="#2a2a2a" stroke-width="0.12" text-anchor="middle" transform="translate(715.0 550.0) rotate(-9) scale(0.88 1) translate(-715.0 -550.0)"><tspan x="715.0" y="544.5">SWOPE MUSIC BLDG</tspan><tspan x="715.0" y="552.5">AND THE PERFORMING</tspan><tspan x="715.0" y="560.5">ARTS CENTER</tspan></text>
<text font-size="9.5" font-weight="bold" fill="#222" stroke="#222" stroke-width="0.12" text-anchor="middle" transform="translate(234.0 277.0) rotate(-9) scale(0.88 1) translate(-234.0 -277.0)"><tspan x="234.0" y="275.1">Lawrence</tspan><tspan x="234.0" y="285.6">Center</tspan></text>
<text font-size="8.8" font-weight="bold" fill="#222" stroke="#222" stroke-width="0.12" text-anchor="middle" transform="translate(282.5 326.0) rotate(-9) scale(0.88 1) translate(-282.5 -326.0)"><tspan x="282.5" y="329.1">University</tspan></text>
<text font-size="5.5" font-weight="bold" fill="#2a2a2a" stroke="#2a2a2a" stroke-width="0.12" text-anchor="middle" transform="translate(197.0 293.3) rotate(90) scale(0.88 1) translate(-197.0 -293.3)"><tspan x="197.0" y="295.2">LOT E</tspan></text>
<text font-size="6" font-weight="normal" fill="#2a2a2a" stroke="#2a2a2a" stroke-width="0.12" text-anchor="middle" transform="translate(382.5 117.5) rotate(22) scale(0.88 1) translate(-382.5 -117.5)"><tspan x="382.5" y="119.6">GOSHEN</tspan></text>
<text font-size="6" font-weight="normal" fill="#2a2a2a" stroke="#2a2a2a" stroke-width="0.12" text-anchor="middle" transform="translate(405.8 115.0) rotate(-42) scale(0.88 1) translate(-405.8 -115.0)"><tspan x="405.8" y="117.1">HALL</tspan></text>
<text font-size="5.5" font-weight="bold" fill="#2a2a2a" stroke="#2a2a2a" stroke-width="0.12" text-anchor="middle" transform="translate(348.3 91.7) rotate(-9) scale(0.88 1) translate(-348.3 -91.7)"><tspan x="348.3" y="93.6">SHARPLESS STREET</tspan></text>
<text font-size="6" font-weight="bold" fill="#2a2a2a" stroke="#2a2a2a" stroke-width="0.12" text-anchor="middle" transform="translate(373.0 622.4) rotate(-3) scale(0.88 1) translate(-373.0 -622.4)"><tspan x="373.0" y="621.1">LOT</tspan><tspan x="373.0" y="627.9">K-1</tspan></text>
<text font-size="6.5" font-weight="normal" fill="#2a2a2a" stroke="#2a2a2a" stroke-width="0.12" text-anchor="middle" transform="translate(304.0 388.0) rotate(-9) scale(0.88 1) translate(-304.0 -388.0)"><tspan x="304.0" y="390.3">BRANDYWINE HALL</tspan></text>
<text font-size="5.8" font-weight="bold" fill="#2a2a2a" stroke="#2a2a2a" stroke-width="0.12" text-anchor="middle" transform="translate(754.7 668.4) rotate(-87) scale(0.88 1) translate(-754.7 -668.4)"><tspan x="754.7" y="670.4">SOUTH HIGH STREET</tspan></text>
<text font-size="6.5" font-weight="bold" fill="#2a2a2a" stroke="#2a2a2a" stroke-width="0.12" text-anchor="middle" transform="translate(563.3 131.0) rotate(-9) scale(0.88 1) translate(-563.3 -131.0)"><tspan x="563.3" y="133.3">LOT B</tspan></text>
<circle cx="49.0" cy="29.0" r="12.0" fill="white" stroke="#222" stroke-width="1.4"/>
<text x="0" y="0" font-size="17" fill="#222" stroke="#222" stroke-width="0.5" text-anchor="middle" transform="translate(49.0 35.1) scale(0.82 1)">1</text>
<circle cx="278.8" cy="17.0" r="12.0" fill="white" stroke="#222" stroke-width="1.4"/>
<text x="0" y="0" font-size="17" fill="#222" stroke="#222" stroke-width="0.5" text-anchor="middle" transform="translate(278.8 23.1) scale(0.82 1)">2</text>
<circle cx="666.0" cy="94.0" r="12.4" fill="white" stroke="#222" stroke-width="1.4"/>
<text x="0" y="0" font-size="17" fill="#222" stroke="#222" stroke-width="0.5" text-anchor="middle" transform="translate(666.0 100.1) scale(0.82 1)">1</text>
<circle cx="813.0" cy="115.0" r="12.4" fill="white" stroke="#222" stroke-width="1.4"/>
<text x="0" y="0" font-size="17" fill="#222" stroke="#222" stroke-width="0.5" text-anchor="middle" transform="translate(813.0 121.1) scale(0.82 1)">2</text>
<circle cx="620.0" cy="681.3" r="12.5" fill="white" stroke="#222" stroke-width="1.4"/>
<text x="0" y="0" font-size="17" fill="#222" stroke="#222" stroke-width="0.5" text-anchor="middle" transform="translate(620.0 687.4) scale(0.82 1)">1</text>
<circle cx="786.3" cy="458.8" r="1.5" fill="#222" stroke="#222" stroke-width="0.5"/>
<circle cx="446.3" cy="27.0" r="6.2" fill="white" stroke="#c8c8c8" stroke-width="0.6"/>
<path d="M442.80,23.00 h7 v1.9 h-4.8 v1.15 h4.2 v1.8 h-4.2 v1.25 h5 v1.9 h-7.2 z" fill="#1b7cc6" stroke="none"/>
<path d="M514.50,74.80 h7 v1.9 h-4.8 v1.15 h4.2 v1.8 h-4.2 v1.25 h5 v1.9 h-7.2 z" fill="#1b7cc6" stroke="none"/>
<path d="M472.80,94.50 h7 v1.9 h-4.8 v1.15 h4.2 v1.8 h-4.2 v1.25 h5 v1.9 h-7.2 z" fill="#1b7cc6" stroke="none"/>
<circle cx="564.5" cy="102.5" r="6.2" fill="white" stroke="#c8c8c8" stroke-width="0.6"/>
<path d="M561.00,98.50 h7 v1.9 h-4.8 v1.15 h4.2 v1.8 h-4.2 v1.25 h5 v1.9 h-7.2 z" fill="#1b7cc6" stroke="none"/>
<path d="M444.00,139.50 h7 v1.9 h-4.8 v1.15 h4.2 v1.8 h-4.2 v1.25 h5 v1.9 h-7.2 z" fill="#1b7cc6" stroke="none"/>
<path d="M280.30,118.50 h7 v1.9 h-4.8 v1.15 h4.2 v1.8 h-4.2 v1.25 h5 v1.9 h-7.2 z" fill="#1b7cc6" stroke="none"/>
<circle cx="147.5" cy="232.5" r="6.2" fill="white" stroke="#c8c8c8" stroke-width="0.6"/>
<path d="M144.00,228.50 h7 v1.9 h-4.8 v1.15 h4.2 v1.8 h-4.2 v1.25 h5 v1.9 h-7.2 z" fill="#1b7cc6" stroke="none"/>
<circle cx="202.0" cy="331.3" r="6.2" fill="white" stroke="#c8c8c8" stroke-width="0.6"/>
<path d="M198.50,327.30 h7 v1.9 h-4.8 v1.15 h4.2 v1.8 h-4.2 v1.25 h5 v1.9 h-7.2 z" fill="#1b7cc6" stroke="none"/>
<circle cx="244.5" cy="399.3" r="6.2" fill="white" stroke="#c8c8c8" stroke-width="0.6"/>
<path d="M241.00,395.30 h7 v1.9 h-4.8 v1.15 h4.2 v1.8 h-4.2 v1.25 h5 v1.9 h-7.2 z" fill="#1b7cc6" stroke="none"/>
<path d="M555.30,282.30 h7 v1.9 h-4.8 v1.15 h4.2 v1.8 h-4.2 v1.25 h5 v1.9 h-7.2 z" fill="#1b7cc6" stroke="none"/>
<path d="M399.00,307.30 h7 v1.9 h-4.8 v1.15 h4.2 v1.8 h-4.2 v1.25 h5 v1.9 h-7.2 z" fill="#1b7cc6" stroke="none"/>
<path d="M340.30,361.00 h7 v1.9 h-4.8 v1.15 h4.2 v1.8 h-4.2 v1.25 h5 v1.9 h-7.2 z" fill="#1b7cc6" stroke="none"/>
<path d="M502.80,428.50 h7 v1.9 h-4.8 v1.15 h4.2 v1.8 h-4.2 v1.25 h5 v1.9 h-7.2 z" fill="#1b7cc6" stroke="none"/>
<path d="M681.00,223.50 h7 v1.9 h-4.8 v1.15 h4.2 v1.8 h-4.2 v1.25 h5 v1.9 h-7.2 z" fill="#1b7cc6" stroke="none"/>
<circle cx="726.3" cy="296.3" r="6.2" fill="white" stroke="#c8c8c8" stroke-width="0.6"/>
<path d="M722.80,292.30 h7 v1.9 h-4.8 v1.15 h4.2 v1.8 h-4.2 v1.25 h5 v1.9 h-7.2 z" fill="#1b7cc6" stroke="none"/>
<path d="M706.50,306.50 h7 v1.9 h-4.8 v1.15 h4.2 v1.8 h-4.2 v1.25 h5 v1.9 h-7.2 z" fill="#1b7cc6" stroke="none"/>
<path d="M637.80,351.00 h7 v1.9 h-4.8 v1.15 h4.2 v1.8 h-4.2 v1.25 h5 v1.9 h-7.2 z" fill="#1b7cc6" stroke="none"/>
<path d="M754.50,383.50 h7 v1.9 h-4.8 v1.15 h4.2 v1.8 h-4.2 v1.25 h5 v1.9 h-7.2 z" fill="#1b7cc6" stroke="none"/>
<path d="M704.00,391.00 h7 v1.9 h-4.8 v1.15 h4.2 v1.8 h-4.2 v1.25 h5 v1.9 h-7.2 z" fill="#1b7cc6" stroke="none"/>
<path d="M815.20,423.50 h7 v1.9 h-4.8 v1.15 h4.2 v1.8 h-4.2 v1.25 h5 v1.9 h-7.2 z" fill="#1b7cc6" stroke="none"/>
<path d="M755.00,468.50 h7 v1.9 h-4.8 v1.15 h4.2 v1.8 h-4.2 v1.25 h5 v1.9 h-7.2 z" fill="#1b7cc6" stroke="none"/>
<path d="M842.80,569.80 h7 v1.9 h-4.8 v1.15 h4.2 v1.8 h-4.2 v1.25 h5 v1.9 h-7.2 z" fill="#1b7cc6" stroke="none"/>
<path d="M981.70,558.80 h7 v1.9 h-4.8 v1.15 h4.2 v1.8 h-4.2 v1.25 h5 v1.9 h-7.2 z" fill="#1b7cc6" stroke="none"/>
<circle cx="870.5" cy="604.4" r="6.2" fill="white" stroke="#c8c8c8" stroke-width="0.6"/>
<path d="M867.00,600.40 h7 v1.9 h-4.8 v1.15 h4.2 v1.8 h-4.2 v1.25 h5 v1.9 h-7.2 z" fill="#1b7cc6" stroke="none"/>
<path d="M881.50,665.40 h7 v1.9 h-4.8 v1.15 h4.2 v1.8 h-4.2 v1.25 h5 v1.9 h-7.2 z" fill="#1b7cc6" stroke="none"/>
<path d="M459.00,484.80 h7 v1.9 h-4.8 v1.15 h4.2 v1.8 h-4.2 v1.25 h5 v1.9 h-7.2 z" fill="#1b7cc6" stroke="none"/>
<circle cx="300.0" cy="535.0" r="6.2" fill="white" stroke="#c8c8c8" stroke-width="0.6"/>
<path d="M296.50,531.00 h7 v1.9 h-4.8 v1.15 h4.2 v1.8 h-4.2 v1.25 h5 v1.9 h-7.2 z" fill="#1b7cc6" stroke="none"/>
<circle cx="397.5" cy="542.5" r="6.2" fill="white" stroke="#c8c8c8" stroke-width="0.6"/>
<path d="M394.00,538.50 h7 v1.9 h-4.8 v1.15 h4.2 v1.8 h-4.2 v1.25 h5 v1.9 h-7.2 z" fill="#1b7cc6" stroke="none"/>
<circle cx="481.3" cy="567.5" r="6.2" fill="white" stroke="#c8c8c8" stroke-width="0.6"/>
<path d="M477.80,563.50 h7 v1.9 h-4.8 v1.15 h4.2 v1.8 h-4.2 v1.25 h5 v1.9 h-7.2 z" fill="#1b7cc6" stroke="none"/>
<g opacity="0.9"><polyline points="190.0,64.0 431.0,54.7" fill="none" stroke="#b4b4b4" stroke-width="2.7" stroke-linecap="butt"/><polygon points="445.0,52.5 425.0,42.5 431.0,54.7 425.0,68.8" fill="#b4b4b4"/></g>
<g opacity="0.9"><polyline points="41.0,91.0 65.2,228.1" fill="none" stroke="#b4b4b4" stroke-width="2.7" stroke-linecap="butt"/><polygon points="67.5,242.5 50.8,224.2 65.2,228.1 77.5,219.7" fill="#b4b4b4"/></g>
<g opacity="0.9"><polyline points="197.0,93.0 370.1,170.8" fill="none" stroke="#b4b4b4" stroke-width="2.7" stroke-linecap="butt"/><polygon points="385.0,178.0 370.0,157.5 370.1,170.8 357.5,178.0" fill="#b4b4b4"/></g>
<g opacity="0.9"><polyline points="305.5,57.0 371.4,245.4" fill="none" stroke="#b4b4b4" stroke-width="2.7" stroke-linecap="butt"/><polygon points="376.7,260.8 356.7,242.5 371.4,245.4 381.7,235.0" fill="#b4b4b4"/></g>
<g opacity="0.9"><polyline points="650.0,98.8 596.2,115.5" fill="none" stroke="#b4b4b4" stroke-width="2.7" stroke-linecap="butt"/><polygon points="581.3,119.5 598.8,101.3 596.2,115.5 606.3,126.3" fill="#b4b4b4"/></g>
<g opacity="0.9"><polyline points="700.0,158.8 650.2,202.7" fill="none" stroke="#b4b4b4" stroke-width="2.7" stroke-linecap="butt"/><polygon points="638.8,211.3 646.3,190.0 650.2,202.7 663.8,208.0" fill="#b4b4b4"/></g>
<g opacity="0.9"><polyline points="750.0,709.5 852.2,646.0" fill="none" stroke="#b4b4b4" stroke-width="2.7" stroke-linecap="butt"/><polygon points="866.2,636.9 839.1,639.1 852.2,646.0 853.2,660.8" fill="#b4b4b4"/></g>
</svg></body></html>
